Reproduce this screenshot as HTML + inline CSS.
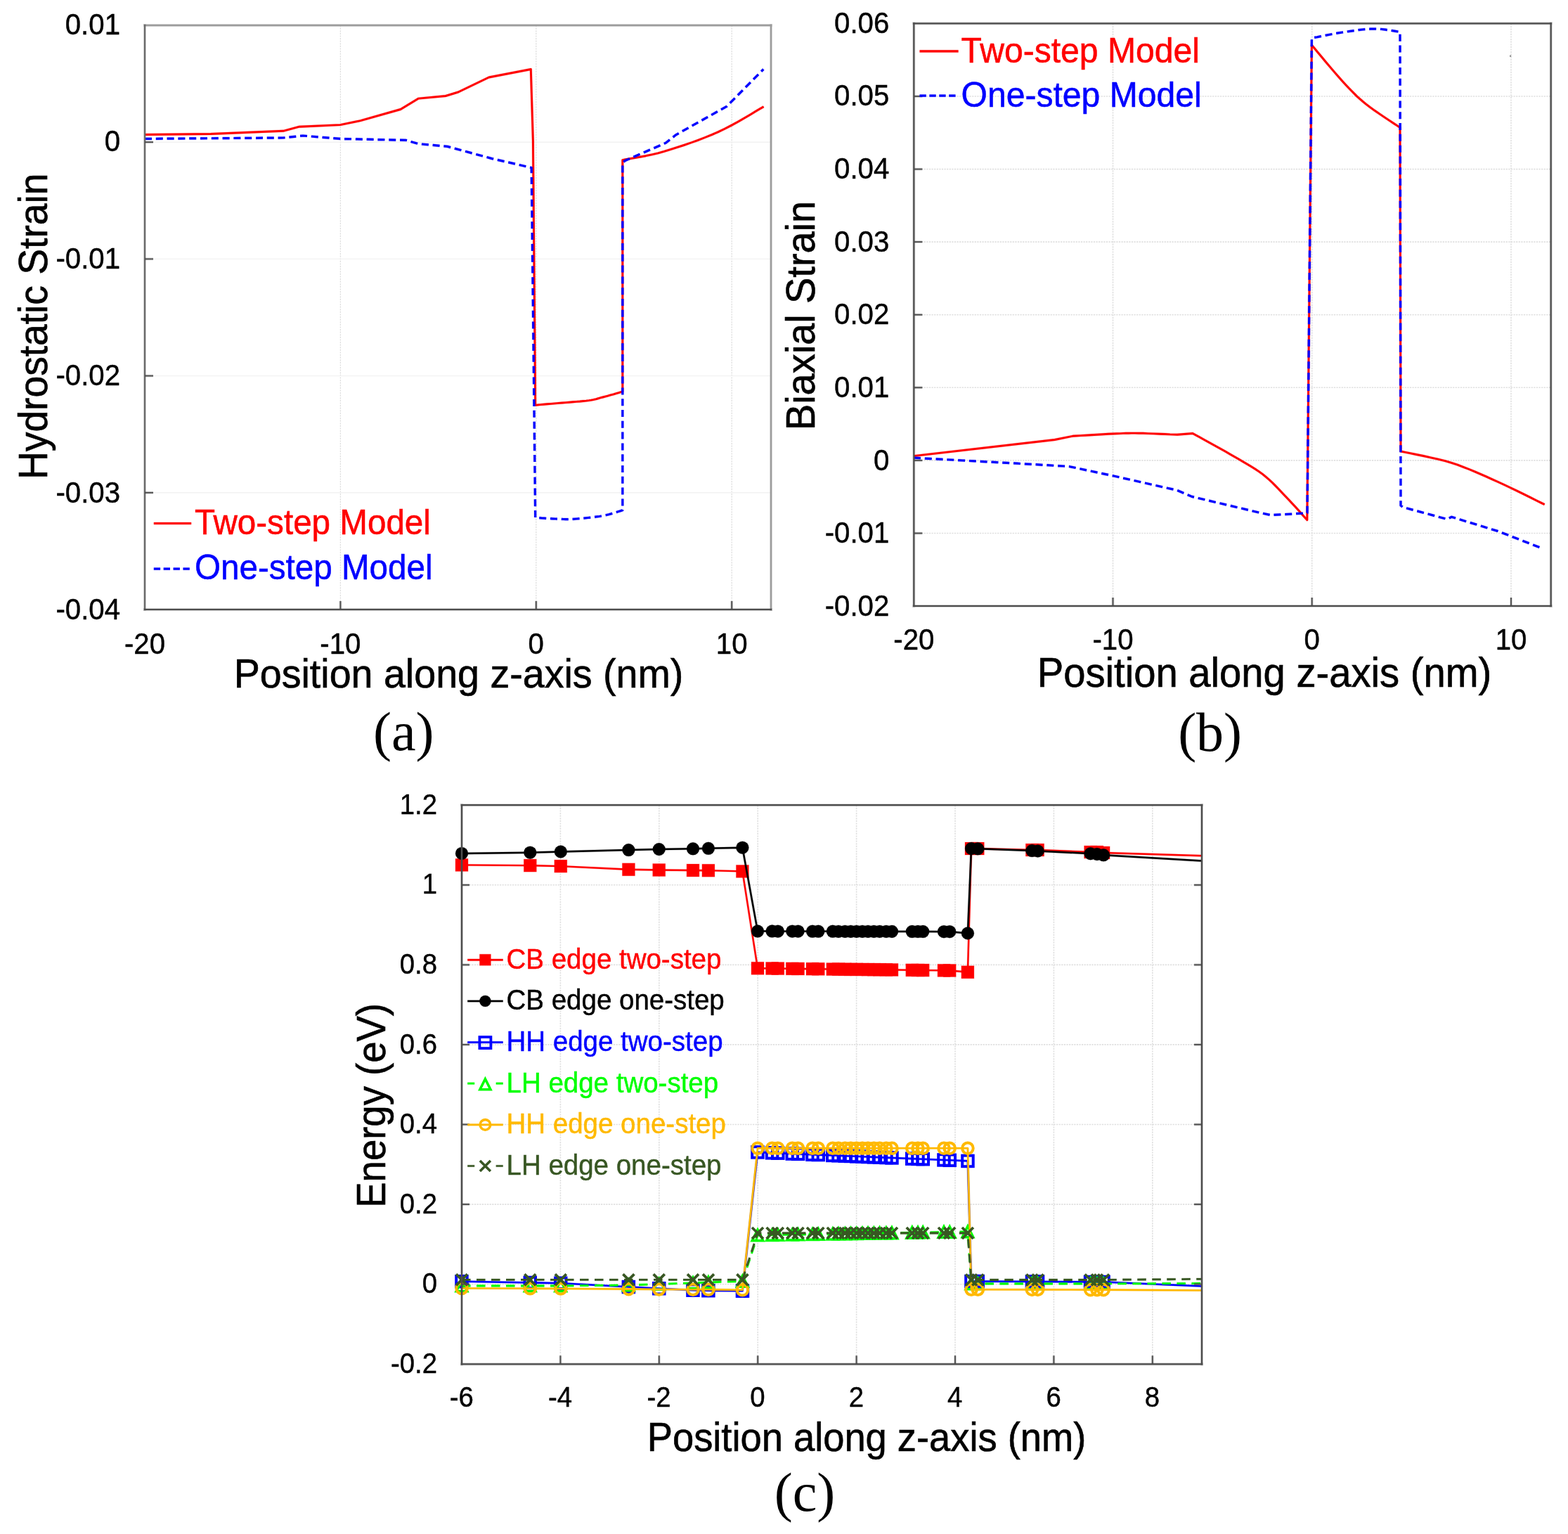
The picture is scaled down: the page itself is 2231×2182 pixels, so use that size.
<!DOCTYPE html>
<html lang="en"><head><meta charset="utf-8"><title>Strain and band-edge profiles</title>
<style>
html,body{margin:0;padding:0;background:#fff;}
body{width:2231px;height:2182px;overflow:hidden;}
svg{display:block;}
svg text{white-space:pre;}
</style></head><body>
<svg width="2231" height="2182" viewBox="0 0 2231 2182">
<rect width="2231" height="2182" fill="#fff"/>
<g id="chart-a">
<line x1="484.4" y1="36.0" x2="484.4" y2="867.0" stroke="#dedede" stroke-width="1.3" stroke-dasharray="2.2 1.4"/>
<line x1="762.8" y1="36.0" x2="762.8" y2="867.0" stroke="#dedede" stroke-width="1.3" stroke-dasharray="2.2 1.4"/>
<line x1="1041.2" y1="36.0" x2="1041.2" y2="867.0" stroke="#dedede" stroke-width="1.3" stroke-dasharray="2.2 1.4"/>
<line x1="206.0" y1="202.2" x2="1097.0" y2="202.2" stroke="#f2f2f2" stroke-width="1.4" />
<line x1="206.0" y1="368.4" x2="1097.0" y2="368.4" stroke="#f2f2f2" stroke-width="1.4" />
<line x1="206.0" y1="534.6" x2="1097.0" y2="534.6" stroke="#f2f2f2" stroke-width="1.4" />
<line x1="206.0" y1="700.8" x2="1097.0" y2="700.8" stroke="#f2f2f2" stroke-width="1.4" />
<polyline points="206.0,191.5 300.0,190.5 403.0,186.3 426.0,180.2 484.0,177.6 513.0,171.7 570.0,155.5 595.5,140.1 634.0,136.5 652.0,131.0 695.6,110.0 755.3,98.5 758.4,200.0 761.7,576.2 764.7,576.0 768.6,575.6 773.3,575.2 778.5,574.8 784.0,574.4 789.6,573.9 795.0,573.4 800.0,573.0 804.9,572.6 809.9,572.2 815.0,571.8 820.1,571.4 825.0,571.0 829.7,570.5 834.0,570.1 837.9,569.6 841.2,569.1 843.9,568.6 846.2,568.1 848.4,567.6 850.4,567.0 852.5,566.4 854.9,565.7 857.6,565.0 860.9,564.1 864.7,563.1 868.8,561.9 872.9,560.8 876.9,559.6 880.5,558.6 883.6,557.7 885.8,557.1 885.8,227.6 890.2,226.8 896.0,225.8 902.9,224.6 910.6,223.2 918.9,221.7 927.6,219.8 936.3,217.8 945.0,215.4 953.9,212.7 963.3,209.7 973.1,206.5 983.2,203.0 993.3,199.3 1003.2,195.5 1012.8,191.6 1022.0,187.6 1031.1,183.3 1040.5,178.4 1050.0,173.2 1059.1,167.9 1067.7,162.9 1075.3,158.3 1081.7,154.5 1086.6,151.7" fill="none" stroke="#ff0000" stroke-width="3.9" stroke-opacity="0.25" stroke-linejoin="round" />
<polyline points="206.0,191.5 300.0,190.5 403.0,186.3 426.0,180.2 484.0,177.6 513.0,171.7 570.0,155.5 595.5,140.1 634.0,136.5 652.0,131.0 695.6,110.0 755.3,98.5 758.4,200.0 761.7,576.2 764.7,576.0 768.6,575.6 773.3,575.2 778.5,574.8 784.0,574.4 789.6,573.9 795.0,573.4 800.0,573.0 804.9,572.6 809.9,572.2 815.0,571.8 820.1,571.4 825.0,571.0 829.7,570.5 834.0,570.1 837.9,569.6 841.2,569.1 843.9,568.6 846.2,568.1 848.4,567.6 850.4,567.0 852.5,566.4 854.9,565.7 857.6,565.0 860.9,564.1 864.7,563.1 868.8,561.9 872.9,560.8 876.9,559.6 880.5,558.6 883.6,557.7 885.8,557.1 885.8,227.6 890.2,226.8 896.0,225.8 902.9,224.6 910.6,223.2 918.9,221.7 927.6,219.8 936.3,217.8 945.0,215.4 953.9,212.7 963.3,209.7 973.1,206.5 983.2,203.0 993.3,199.3 1003.2,195.5 1012.8,191.6 1022.0,187.6 1031.1,183.3 1040.5,178.4 1050.0,173.2 1059.1,167.9 1067.7,162.9 1075.3,158.3 1081.7,154.5 1086.6,151.7" fill="none" stroke="#ff0000" stroke-width="2.9" stroke-linejoin="round" />
<polyline points="206.0,197.4 403.0,196.0 431.0,193.0 484.0,197.4 577.5,199.4 595.5,204.6 636.6,208.4 700.0,225.6 756.2,238.5 761.7,736.3 763.9,736.4 766.9,736.6 770.4,736.9 774.3,737.1 778.3,737.4 782.5,737.6 786.4,737.8 790.0,738.0 793.2,738.1 796.2,738.3 799.0,738.4 801.9,738.5 804.8,738.6 808.0,738.6 811.5,738.5 815.5,738.3 820.1,738.0 825.2,737.6 830.7,737.1 836.4,736.5 842.1,735.9 847.7,735.2 852.9,734.5 857.6,733.7 862.0,732.8 866.3,731.8 870.4,730.6 874.3,729.5 877.9,728.3 881.1,727.3 883.7,726.4 885.8,725.8 885.8,231.5 889.5,228.5 947.3,203.3 961.7,191.8 1034.0,151.3 1086.3,98.5" fill="none" stroke="#0000ff" stroke-width="4.2" stroke-opacity="0.25" stroke-linejoin="round" stroke-dasharray="10 5.8"/>
<polyline points="206.0,197.4 403.0,196.0 431.0,193.0 484.0,197.4 577.5,199.4 595.5,204.6 636.6,208.4 700.0,225.6 756.2,238.5 761.7,736.3 763.9,736.4 766.9,736.6 770.4,736.9 774.3,737.1 778.3,737.4 782.5,737.6 786.4,737.8 790.0,738.0 793.2,738.1 796.2,738.3 799.0,738.4 801.9,738.5 804.8,738.6 808.0,738.6 811.5,738.5 815.5,738.3 820.1,738.0 825.2,737.6 830.7,737.1 836.4,736.5 842.1,735.9 847.7,735.2 852.9,734.5 857.6,733.7 862.0,732.8 866.3,731.8 870.4,730.6 874.3,729.5 877.9,728.3 881.1,727.3 883.7,726.4 885.8,725.8 885.8,231.5 889.5,228.5 947.3,203.3 961.7,191.8 1034.0,151.3 1086.3,98.5" fill="none" stroke="#0000ff" stroke-width="3.2" stroke-linejoin="round" stroke-dasharray="10 5.8"/>
<line x1="206.0" y1="36.0" x2="1097.0" y2="36.0" stroke="#9c9c9c" stroke-width="4.0" stroke-opacity="0.3" stroke-linecap="square"/>
<line x1="1097.0" y1="36.0" x2="1097.0" y2="867.0" stroke="#9c9c9c" stroke-width="4.0" stroke-opacity="0.3" stroke-linecap="square"/>
<line x1="206.0" y1="36.0" x2="1097.0" y2="36.0" stroke="#9c9c9c" stroke-width="2.3" stroke-opacity="1" stroke-linecap="square"/>
<line x1="1097.0" y1="36.0" x2="1097.0" y2="867.0" stroke="#9c9c9c" stroke-width="2.3" stroke-opacity="1" stroke-linecap="square"/>
<line x1="206.0" y1="36.0" x2="206.0" y2="867.0" stroke="#6a6a6a" stroke-width="3.8" stroke-opacity="0.28" stroke-linecap="square"/>
<line x1="206.0" y1="36.0" x2="206.0" y2="867.0" stroke="#6a6a6a" stroke-width="2.2" stroke-opacity="1" stroke-linecap="square"/>
<line x1="206.0" y1="867.0" x2="1097.0" y2="867.0" stroke="#4d4d4d" stroke-width="3.8" stroke-opacity="0.28" stroke-linecap="square"/>
<line x1="206.0" y1="867.0" x2="1097.0" y2="867.0" stroke="#4d4d4d" stroke-width="2.2" stroke-opacity="1" stroke-linecap="square"/>
<line x1="206.0" y1="202.2" x2="218.0" y2="202.2" stroke="#4d4d4d" stroke-width="3.6" stroke-opacity="0.3"/>
<line x1="206.0" y1="202.2" x2="218.0" y2="202.2" stroke="#4d4d4d" stroke-width="1.8"/>
<line x1="206.0" y1="368.4" x2="218.0" y2="368.4" stroke="#4d4d4d" stroke-width="3.6" stroke-opacity="0.3"/>
<line x1="206.0" y1="368.4" x2="218.0" y2="368.4" stroke="#4d4d4d" stroke-width="1.8"/>
<line x1="206.0" y1="534.6" x2="218.0" y2="534.6" stroke="#4d4d4d" stroke-width="3.6" stroke-opacity="0.3"/>
<line x1="206.0" y1="534.6" x2="218.0" y2="534.6" stroke="#4d4d4d" stroke-width="1.8"/>
<line x1="206.0" y1="700.8" x2="218.0" y2="700.8" stroke="#4d4d4d" stroke-width="3.6" stroke-opacity="0.3"/>
<line x1="206.0" y1="700.8" x2="218.0" y2="700.8" stroke="#4d4d4d" stroke-width="1.8"/>
<line x1="484.4" y1="867.0" x2="484.4" y2="855.0" stroke="#4d4d4d" stroke-width="3.6" stroke-opacity="0.3"/>
<line x1="484.4" y1="867.0" x2="484.4" y2="855.0" stroke="#4d4d4d" stroke-width="1.8"/>
<line x1="762.8" y1="867.0" x2="762.8" y2="855.0" stroke="#4d4d4d" stroke-width="3.6" stroke-opacity="0.3"/>
<line x1="762.8" y1="867.0" x2="762.8" y2="855.0" stroke="#4d4d4d" stroke-width="1.8"/>
<line x1="1041.2" y1="867.0" x2="1041.2" y2="855.0" stroke="#4d4d4d" stroke-width="3.6" stroke-opacity="0.3"/>
<line x1="1041.2" y1="867.0" x2="1041.2" y2="855.0" stroke="#4d4d4d" stroke-width="1.8"/>
<text transform="translate(171.0,48.5) scale(1,1.04)" font-size="40.2" fill="#000" stroke="#000" stroke-width="0.44" text-anchor="end" font-family="Liberation Sans, Arial, Helvetica, sans-serif">0.01</text>
<text transform="translate(171.0,215.1) scale(1,1.04)" font-size="40.2" fill="#000" stroke="#000" stroke-width="0.44" text-anchor="end" font-family="Liberation Sans, Arial, Helvetica, sans-serif">0</text>
<text transform="translate(171.0,381.6) scale(1,1.04)" font-size="40.2" fill="#000" stroke="#000" stroke-width="0.44" text-anchor="end" font-family="Liberation Sans, Arial, Helvetica, sans-serif">-0.01</text>
<text transform="translate(171.0,548.1) scale(1,1.04)" font-size="40.2" fill="#000" stroke="#000" stroke-width="0.44" text-anchor="end" font-family="Liberation Sans, Arial, Helvetica, sans-serif">-0.02</text>
<text transform="translate(171.0,714.7) scale(1,1.04)" font-size="40.2" fill="#000" stroke="#000" stroke-width="0.44" text-anchor="end" font-family="Liberation Sans, Arial, Helvetica, sans-serif">-0.03</text>
<text transform="translate(171.0,881.2) scale(1,1.04)" font-size="40.2" fill="#000" stroke="#000" stroke-width="0.44" text-anchor="end" font-family="Liberation Sans, Arial, Helvetica, sans-serif">-0.04</text>
<text transform="translate(206.0,929.7) scale(1,1.04)" font-size="40.2" fill="#000" stroke="#000" stroke-width="0.44" text-anchor="middle" font-family="Liberation Sans, Arial, Helvetica, sans-serif">-20</text>
<text transform="translate(484.4,929.7) scale(1,1.04)" font-size="40.2" fill="#000" stroke="#000" stroke-width="0.44" text-anchor="middle" font-family="Liberation Sans, Arial, Helvetica, sans-serif">-10</text>
<text transform="translate(762.8,929.7) scale(1,1.04)" font-size="40.2" fill="#000" stroke="#000" stroke-width="0.44" text-anchor="middle" font-family="Liberation Sans, Arial, Helvetica, sans-serif">0</text>
<text transform="translate(1041.2,929.7) scale(1,1.04)" font-size="40.2" fill="#000" stroke="#000" stroke-width="0.44" text-anchor="middle" font-family="Liberation Sans, Arial, Helvetica, sans-serif">10</text>
<text transform="translate(652.5,978.1) scale(1,1.04)" font-size="55.6" fill="#000" stroke="#000" stroke-width="0.61" text-anchor="middle" font-family="Liberation Sans, Arial, Helvetica, sans-serif">Position along z-axis (nm)</text>
<text transform="translate(67.3,464.3) rotate(-90) scale(1,1.04)" font-size="55.2" fill="#000" stroke="#000" stroke-width="0.61" text-anchor="middle" font-family="Liberation Sans, Arial, Helvetica, sans-serif">Hydrostatic Strain</text>
<line x1="218.8" y1="744.5" x2="272.2" y2="744.5" stroke="#ff0000" stroke-width="4.1" stroke-opacity="0.25" />
<line x1="218.8" y1="744.5" x2="272.2" y2="744.5" stroke="#ff0000" stroke-width="3.1" />
<text transform="translate(277.0,760.0) scale(1,1.04)" font-size="47.6" fill="#ff0000" stroke="#ff0000" stroke-width="0.52" text-anchor="start" font-family="Liberation Sans, Arial, Helvetica, sans-serif">Two-step Model</text>
<line x1="218.8" y1="809.2" x2="272.2" y2="809.2" stroke="#0000ff" stroke-width="4.2" stroke-opacity="0.25" stroke-dasharray="9.3 4.6"/>
<line x1="218.8" y1="809.2" x2="272.2" y2="809.2" stroke="#0000ff" stroke-width="3.2" stroke-dasharray="9.3 4.6"/>
<text transform="translate(277.0,824.0) scale(1,1.04)" font-size="47.6" fill="#0000ff" stroke="#0000ff" stroke-width="0.52" text-anchor="start" font-family="Liberation Sans, Arial, Helvetica, sans-serif">One-step Model</text>
<text transform="translate(574.2,1066.5)" font-size="78" fill="#000" text-anchor="middle" font-family="Liberation Serif, DejaVu Serif, serif">(a)</text>
</g>
<g id="chart-b">
<line x1="1583.5" y1="33.4" x2="1583.5" y2="862.0" stroke="#dfdfdf" stroke-width="1.6" stroke-dasharray="2.2 1.4"/>
<line x1="1866.7" y1="33.4" x2="1866.7" y2="862.0" stroke="#dfdfdf" stroke-width="1.6" stroke-dasharray="2.2 1.4"/>
<line x1="2150.0" y1="33.4" x2="2150.0" y2="862.0" stroke="#dfdfdf" stroke-width="1.6" stroke-dasharray="2.2 1.4"/>
<line x1="1300.3" y1="137.0" x2="2206.7" y2="137.0" stroke="#dfdfdf" stroke-width="1.6" stroke-dasharray="2.2 1.4"/>
<line x1="1300.3" y1="240.6" x2="2206.7" y2="240.6" stroke="#dfdfdf" stroke-width="1.6" stroke-dasharray="2.2 1.4"/>
<line x1="1300.3" y1="344.1" x2="2206.7" y2="344.1" stroke="#dfdfdf" stroke-width="1.6" stroke-dasharray="2.2 1.4"/>
<line x1="1300.3" y1="447.7" x2="2206.7" y2="447.7" stroke="#dfdfdf" stroke-width="1.6" stroke-dasharray="2.2 1.4"/>
<line x1="1300.3" y1="551.3" x2="2206.7" y2="551.3" stroke="#dfdfdf" stroke-width="1.6" stroke-dasharray="2.2 1.4"/>
<line x1="1300.3" y1="654.9" x2="2206.7" y2="654.9" stroke="#dfdfdf" stroke-width="1.6" stroke-dasharray="2.2 1.4"/>
<line x1="1300.3" y1="758.5" x2="2206.7" y2="758.5" stroke="#dfdfdf" stroke-width="1.6" stroke-dasharray="2.2 1.4"/>
<polyline points="1300.0,648.6 1500.6,625.5 1526.3,620.3 1530.9,620.0 1537.1,619.6 1544.5,619.2 1552.6,618.7 1561.1,618.2 1569.3,617.7 1576.9,617.3 1583.5,617.0 1588.9,616.8 1593.6,616.6 1597.9,616.4 1601.9,616.3 1605.9,616.2 1610.1,616.1 1614.7,616.1 1620.0,616.2 1626.4,616.3 1633.7,616.6 1641.7,616.9 1649.8,617.2 1657.6,617.5 1664.7,617.9 1670.6,618.1 1675.0,618.3 1697.0,616.5 1701.1,618.8 1706.7,621.8 1713.3,625.4 1720.6,629.5 1728.3,633.7 1736.0,638.0 1743.3,642.1 1750.0,646.0 1756.2,649.6 1762.4,653.1 1768.6,656.7 1774.6,660.2 1780.4,663.7 1786.1,667.3 1791.5,670.9 1796.7,674.7 1801.5,678.6 1806.0,682.5 1810.3,686.5 1814.4,690.6 1818.4,694.7 1822.2,698.8 1826.1,702.9 1830.0,707.0 1834.1,711.3 1838.4,715.9 1842.7,720.6 1847.0,725.3 1851.0,729.7 1854.5,733.7 1857.5,737.1 1859.8,739.6 1866.4,64.2 1869.9,68.3 1874.6,74.0 1880.3,80.8 1886.5,88.2 1893.0,95.9 1899.4,103.4 1905.4,110.3 1910.7,116.2 1915.3,121.2 1919.4,125.6 1923.3,129.6 1927.1,133.4 1930.8,137.1 1934.8,140.7 1939.1,144.4 1943.9,148.3 1949.5,152.6 1956.0,157.3 1963.0,162.1 1970.0,166.9 1976.8,171.4 1983.0,175.5 1988.2,178.9 1992.0,181.5 1993.0,642.0 1998.6,643.2 2006.1,644.7 2015.1,646.5 2025.1,648.5 2035.5,650.8 2046.0,653.2 2056.1,655.7 2065.3,658.4 2073.8,661.2 2082.1,664.3 2090.3,667.5 2098.4,670.9 2106.5,674.4 2114.6,677.9 2122.7,681.6 2130.9,685.3 2139.6,689.3 2149.1,693.8 2158.8,698.4 2168.4,703.1 2177.5,707.6 2185.7,711.7 2192.5,715.1 2197.7,717.6" fill="none" stroke="#ff0000" stroke-width="3.9" stroke-opacity="0.25" stroke-linejoin="round" />
<polyline points="1300.0,648.6 1500.6,625.5 1526.3,620.3 1530.9,620.0 1537.1,619.6 1544.5,619.2 1552.6,618.7 1561.1,618.2 1569.3,617.7 1576.9,617.3 1583.5,617.0 1588.9,616.8 1593.6,616.6 1597.9,616.4 1601.9,616.3 1605.9,616.2 1610.1,616.1 1614.7,616.1 1620.0,616.2 1626.4,616.3 1633.7,616.6 1641.7,616.9 1649.8,617.2 1657.6,617.5 1664.7,617.9 1670.6,618.1 1675.0,618.3 1697.0,616.5 1701.1,618.8 1706.7,621.8 1713.3,625.4 1720.6,629.5 1728.3,633.7 1736.0,638.0 1743.3,642.1 1750.0,646.0 1756.2,649.6 1762.4,653.1 1768.6,656.7 1774.6,660.2 1780.4,663.7 1786.1,667.3 1791.5,670.9 1796.7,674.7 1801.5,678.6 1806.0,682.5 1810.3,686.5 1814.4,690.6 1818.4,694.7 1822.2,698.8 1826.1,702.9 1830.0,707.0 1834.1,711.3 1838.4,715.9 1842.7,720.6 1847.0,725.3 1851.0,729.7 1854.5,733.7 1857.5,737.1 1859.8,739.6 1866.4,64.2 1869.9,68.3 1874.6,74.0 1880.3,80.8 1886.5,88.2 1893.0,95.9 1899.4,103.4 1905.4,110.3 1910.7,116.2 1915.3,121.2 1919.4,125.6 1923.3,129.6 1927.1,133.4 1930.8,137.1 1934.8,140.7 1939.1,144.4 1943.9,148.3 1949.5,152.6 1956.0,157.3 1963.0,162.1 1970.0,166.9 1976.8,171.4 1983.0,175.5 1988.2,178.9 1992.0,181.5 1993.0,642.0 1998.6,643.2 2006.1,644.7 2015.1,646.5 2025.1,648.5 2035.5,650.8 2046.0,653.2 2056.1,655.7 2065.3,658.4 2073.8,661.2 2082.1,664.3 2090.3,667.5 2098.4,670.9 2106.5,674.4 2114.6,677.9 2122.7,681.6 2130.9,685.3 2139.6,689.3 2149.1,693.8 2158.8,698.4 2168.4,703.1 2177.5,707.6 2185.7,711.7 2192.5,715.1 2197.7,717.6" fill="none" stroke="#ff0000" stroke-width="2.9" stroke-linejoin="round" />
<polyline points="1300.0,651.2 1309.2,651.7 1321.6,652.4 1336.3,653.2 1352.6,654.0 1369.7,655.0 1386.8,655.9 1403.2,656.8 1418.0,657.6 1432.3,658.4 1447.2,659.2 1462.2,660.1 1476.9,660.9 1490.6,661.7 1502.8,662.5 1513.2,663.0 1521.0,663.5 1583.5,676.8 1675.0,697.4 1695.8,706.4 1790.0,728.7 1808.0,732.7 1853.5,730.2 1860.0,729.5 1866.4,54.2 1869.8,53.5 1874.2,52.7 1879.5,51.6 1885.4,50.4 1891.6,49.2 1898.0,48.0 1904.2,46.9 1910.0,46.0 1915.6,45.2 1921.3,44.3 1927.1,43.5 1932.9,42.7 1938.6,42.0 1944.3,41.5 1949.7,41.2 1955.0,41.0 1960.3,41.1 1965.7,41.5 1971.1,42.2 1976.3,42.9 1981.2,43.7 1985.5,44.4 1989.2,45.0 1992.0,45.4 1993.0,719.0 1996.0,721.4 2059.0,738.5 2065.3,735.3 2130.9,755.4 2191.4,778.9" fill="none" stroke="#0000ff" stroke-width="4.2" stroke-opacity="0.25" stroke-linejoin="round" stroke-dasharray="10 5.8"/>
<polyline points="1300.0,651.2 1309.2,651.7 1321.6,652.4 1336.3,653.2 1352.6,654.0 1369.7,655.0 1386.8,655.9 1403.2,656.8 1418.0,657.6 1432.3,658.4 1447.2,659.2 1462.2,660.1 1476.9,660.9 1490.6,661.7 1502.8,662.5 1513.2,663.0 1521.0,663.5 1583.5,676.8 1675.0,697.4 1695.8,706.4 1790.0,728.7 1808.0,732.7 1853.5,730.2 1860.0,729.5 1866.4,54.2 1869.8,53.5 1874.2,52.7 1879.5,51.6 1885.4,50.4 1891.6,49.2 1898.0,48.0 1904.2,46.9 1910.0,46.0 1915.6,45.2 1921.3,44.3 1927.1,43.5 1932.9,42.7 1938.6,42.0 1944.3,41.5 1949.7,41.2 1955.0,41.0 1960.3,41.1 1965.7,41.5 1971.1,42.2 1976.3,42.9 1981.2,43.7 1985.5,44.4 1989.2,45.0 1992.0,45.4 1993.0,719.0 1996.0,721.4 2059.0,738.5 2065.3,735.3 2130.9,755.4 2191.4,778.9" fill="none" stroke="#0000ff" stroke-width="3.2" stroke-linejoin="round" stroke-dasharray="10 5.8"/>
<line x1="1300.3" y1="33.4" x2="1300.3" y2="862.0" stroke="#4d4d4d" stroke-width="3.8" stroke-opacity="0.28" stroke-linecap="square"/>
<line x1="1300.3" y1="33.4" x2="2206.7" y2="33.4" stroke="#4d4d4d" stroke-width="3.8" stroke-opacity="0.28" stroke-linecap="square"/>
<line x1="2206.7" y1="33.4" x2="2206.7" y2="862.0" stroke="#4d4d4d" stroke-width="3.8" stroke-opacity="0.28" stroke-linecap="square"/>
<line x1="1300.3" y1="862.0" x2="2206.7" y2="862.0" stroke="#4d4d4d" stroke-width="3.8" stroke-opacity="0.28" stroke-linecap="square"/>
<line x1="1300.3" y1="33.4" x2="1300.3" y2="862.0" stroke="#4d4d4d" stroke-width="2.2" stroke-opacity="1" stroke-linecap="square"/>
<line x1="1300.3" y1="33.4" x2="2206.7" y2="33.4" stroke="#4d4d4d" stroke-width="2.2" stroke-opacity="1" stroke-linecap="square"/>
<line x1="2206.7" y1="33.4" x2="2206.7" y2="862.0" stroke="#4d4d4d" stroke-width="2.2" stroke-opacity="1" stroke-linecap="square"/>
<line x1="1300.3" y1="862.0" x2="2206.7" y2="862.0" stroke="#4d4d4d" stroke-width="2.2" stroke-opacity="1" stroke-linecap="square"/>
<rect x="2148" y="78.6" width="2.2" height="2.2" fill="#8a8a8a"/>
<line x1="1300.3" y1="137.0" x2="1312.3" y2="137.0" stroke="#4d4d4d" stroke-width="3.6" stroke-opacity="0.3"/>
<line x1="1300.3" y1="137.0" x2="1312.3" y2="137.0" stroke="#4d4d4d" stroke-width="1.8"/>
<line x1="1300.3" y1="240.6" x2="1312.3" y2="240.6" stroke="#4d4d4d" stroke-width="3.6" stroke-opacity="0.3"/>
<line x1="1300.3" y1="240.6" x2="1312.3" y2="240.6" stroke="#4d4d4d" stroke-width="1.8"/>
<line x1="1300.3" y1="344.1" x2="1312.3" y2="344.1" stroke="#4d4d4d" stroke-width="3.6" stroke-opacity="0.3"/>
<line x1="1300.3" y1="344.1" x2="1312.3" y2="344.1" stroke="#4d4d4d" stroke-width="1.8"/>
<line x1="1300.3" y1="447.7" x2="1312.3" y2="447.7" stroke="#4d4d4d" stroke-width="3.6" stroke-opacity="0.3"/>
<line x1="1300.3" y1="447.7" x2="1312.3" y2="447.7" stroke="#4d4d4d" stroke-width="1.8"/>
<line x1="1300.3" y1="551.3" x2="1312.3" y2="551.3" stroke="#4d4d4d" stroke-width="3.6" stroke-opacity="0.3"/>
<line x1="1300.3" y1="551.3" x2="1312.3" y2="551.3" stroke="#4d4d4d" stroke-width="1.8"/>
<line x1="1300.3" y1="654.9" x2="1312.3" y2="654.9" stroke="#4d4d4d" stroke-width="3.6" stroke-opacity="0.3"/>
<line x1="1300.3" y1="654.9" x2="1312.3" y2="654.9" stroke="#4d4d4d" stroke-width="1.8"/>
<line x1="1300.3" y1="758.5" x2="1312.3" y2="758.5" stroke="#4d4d4d" stroke-width="3.6" stroke-opacity="0.3"/>
<line x1="1300.3" y1="758.5" x2="1312.3" y2="758.5" stroke="#4d4d4d" stroke-width="1.8"/>
<line x1="1583.5" y1="862.0" x2="1583.5" y2="850.0" stroke="#4d4d4d" stroke-width="3.6" stroke-opacity="0.3"/>
<line x1="1583.5" y1="862.0" x2="1583.5" y2="850.0" stroke="#4d4d4d" stroke-width="1.8"/>
<line x1="1866.7" y1="862.0" x2="1866.7" y2="850.0" stroke="#4d4d4d" stroke-width="3.6" stroke-opacity="0.3"/>
<line x1="1866.7" y1="862.0" x2="1866.7" y2="850.0" stroke="#4d4d4d" stroke-width="1.8"/>
<line x1="2150.0" y1="862.0" x2="2150.0" y2="850.0" stroke="#4d4d4d" stroke-width="3.6" stroke-opacity="0.3"/>
<line x1="2150.0" y1="862.0" x2="2150.0" y2="850.0" stroke="#4d4d4d" stroke-width="1.8"/>
<text transform="translate(1265.3,46.5) scale(1,1.04)" font-size="40.2" fill="#000" stroke="#000" stroke-width="0.44" text-anchor="end" font-family="Liberation Sans, Arial, Helvetica, sans-serif">0.06</text>
<text transform="translate(1265.3,150.2) scale(1,1.04)" font-size="40.2" fill="#000" stroke="#000" stroke-width="0.44" text-anchor="end" font-family="Liberation Sans, Arial, Helvetica, sans-serif">0.05</text>
<text transform="translate(1265.3,253.9) scale(1,1.04)" font-size="40.2" fill="#000" stroke="#000" stroke-width="0.44" text-anchor="end" font-family="Liberation Sans, Arial, Helvetica, sans-serif">0.04</text>
<text transform="translate(1265.3,357.6) scale(1,1.04)" font-size="40.2" fill="#000" stroke="#000" stroke-width="0.44" text-anchor="end" font-family="Liberation Sans, Arial, Helvetica, sans-serif">0.03</text>
<text transform="translate(1265.3,461.3) scale(1,1.04)" font-size="40.2" fill="#000" stroke="#000" stroke-width="0.44" text-anchor="end" font-family="Liberation Sans, Arial, Helvetica, sans-serif">0.02</text>
<text transform="translate(1265.3,565.0) scale(1,1.04)" font-size="40.2" fill="#000" stroke="#000" stroke-width="0.44" text-anchor="end" font-family="Liberation Sans, Arial, Helvetica, sans-serif">0.01</text>
<text transform="translate(1265.3,668.7) scale(1,1.04)" font-size="40.2" fill="#000" stroke="#000" stroke-width="0.44" text-anchor="end" font-family="Liberation Sans, Arial, Helvetica, sans-serif">0</text>
<text transform="translate(1265.3,772.4) scale(1,1.04)" font-size="40.2" fill="#000" stroke="#000" stroke-width="0.44" text-anchor="end" font-family="Liberation Sans, Arial, Helvetica, sans-serif">-0.01</text>
<text transform="translate(1265.3,876.1) scale(1,1.04)" font-size="40.2" fill="#000" stroke="#000" stroke-width="0.44" text-anchor="end" font-family="Liberation Sans, Arial, Helvetica, sans-serif">-0.02</text>
<text transform="translate(1300.3,924.4) scale(1,1.04)" font-size="40.2" fill="#000" stroke="#000" stroke-width="0.44" text-anchor="middle" font-family="Liberation Sans, Arial, Helvetica, sans-serif">-20</text>
<text transform="translate(1583.5,924.4) scale(1,1.04)" font-size="40.2" fill="#000" stroke="#000" stroke-width="0.44" text-anchor="middle" font-family="Liberation Sans, Arial, Helvetica, sans-serif">-10</text>
<text transform="translate(1866.7,924.4) scale(1,1.04)" font-size="40.2" fill="#000" stroke="#000" stroke-width="0.44" text-anchor="middle" font-family="Liberation Sans, Arial, Helvetica, sans-serif">0</text>
<text transform="translate(2150.0,924.4) scale(1,1.04)" font-size="40.2" fill="#000" stroke="#000" stroke-width="0.44" text-anchor="middle" font-family="Liberation Sans, Arial, Helvetica, sans-serif">10</text>
<text transform="translate(1799.0,976.5) scale(1,1.04)" font-size="56.2" fill="#000" stroke="#000" stroke-width="0.62" text-anchor="middle" font-family="Liberation Sans, Arial, Helvetica, sans-serif">Position along z-axis (nm)</text>
<text transform="translate(1158.6,449.0) rotate(-90) scale(1,1.04)" font-size="55.9" fill="#000" stroke="#000" stroke-width="0.61" text-anchor="middle" font-family="Liberation Sans, Arial, Helvetica, sans-serif">Biaxial Strain</text>
<line x1="1308.5" y1="72.9" x2="1363.6" y2="72.9" stroke="#ff0000" stroke-width="4.1" stroke-opacity="0.25" />
<line x1="1308.5" y1="72.9" x2="1363.6" y2="72.9" stroke="#ff0000" stroke-width="3.1" />
<text transform="translate(1367.5,88.8) scale(1,1.04)" font-size="48.1" fill="#ff0000" stroke="#ff0000" stroke-width="0.53" text-anchor="start" font-family="Liberation Sans, Arial, Helvetica, sans-serif">Two-step Model</text>
<line x1="1308.5" y1="136.2" x2="1363.6" y2="136.2" stroke="#0000ff" stroke-width="4.2" stroke-opacity="0.25" stroke-dasharray="9.3 4.6"/>
<line x1="1308.5" y1="136.2" x2="1363.6" y2="136.2" stroke="#0000ff" stroke-width="3.2" stroke-dasharray="9.3 4.6"/>
<text transform="translate(1367.5,152.0) scale(1,1.04)" font-size="48.1" fill="#0000ff" stroke="#0000ff" stroke-width="0.53" text-anchor="start" font-family="Liberation Sans, Arial, Helvetica, sans-serif">One-step Model</text>
<text transform="translate(1721.6,1067.5)" font-size="78" fill="#000" text-anchor="middle" font-family="Liberation Serif, DejaVu Serif, serif">(b)</text>
</g>
<g id="chart-c">
<line x1="797.4" y1="1145.2" x2="797.4" y2="1940.3" stroke="#dfdfdf" stroke-width="1.6" stroke-dasharray="2.2 1.4"/>
<line x1="937.8" y1="1145.2" x2="937.8" y2="1940.3" stroke="#dfdfdf" stroke-width="1.6" stroke-dasharray="2.2 1.4"/>
<line x1="1078.2" y1="1145.2" x2="1078.2" y2="1940.3" stroke="#dfdfdf" stroke-width="1.6" stroke-dasharray="2.2 1.4"/>
<line x1="1218.6" y1="1145.2" x2="1218.6" y2="1940.3" stroke="#dfdfdf" stroke-width="1.6" stroke-dasharray="2.2 1.4"/>
<line x1="1359.0" y1="1145.2" x2="1359.0" y2="1940.3" stroke="#dfdfdf" stroke-width="1.6" stroke-dasharray="2.2 1.4"/>
<line x1="1499.4" y1="1145.2" x2="1499.4" y2="1940.3" stroke="#dfdfdf" stroke-width="1.6" stroke-dasharray="2.2 1.4"/>
<line x1="1639.8" y1="1145.2" x2="1639.8" y2="1940.3" stroke="#dfdfdf" stroke-width="1.6" stroke-dasharray="2.2 1.4"/>
<line x1="657.0" y1="1258.8" x2="1710.0" y2="1258.8" stroke="#dfdfdf" stroke-width="1.6" stroke-dasharray="2.2 1.4"/>
<line x1="657.0" y1="1372.4" x2="1710.0" y2="1372.4" stroke="#dfdfdf" stroke-width="1.6" stroke-dasharray="2.2 1.4"/>
<line x1="657.0" y1="1485.9" x2="1710.0" y2="1485.9" stroke="#dfdfdf" stroke-width="1.6" stroke-dasharray="2.2 1.4"/>
<line x1="657.0" y1="1599.5" x2="1710.0" y2="1599.5" stroke="#dfdfdf" stroke-width="1.6" stroke-dasharray="2.2 1.4"/>
<line x1="657.0" y1="1713.1" x2="1710.0" y2="1713.1" stroke="#dfdfdf" stroke-width="1.6" stroke-dasharray="2.2 1.4"/>
<line x1="657.0" y1="1826.7" x2="1710.0" y2="1826.7" stroke="#dfdfdf" stroke-width="1.6" stroke-dasharray="2.2 1.4"/>
<polyline points="657.0,1230.4 754.3,1231.1 797.8,1232.1 894.4,1236.8 937.7,1237.5 986.0,1238.0 1007.9,1238.2 1056.4,1239.4 1078.0,1377.3 1098.6,1377.5 1106.8,1377.6 1127.3,1377.9 1135.5,1378.0 1156.0,1378.2 1164.3,1378.3 1184.8,1378.6 1193.0,1378.6 1202.3,1378.8 1210.5,1378.9 1218.7,1378.9 1227.0,1379.0 1235.0,1379.1 1243.4,1379.2 1251.6,1379.3 1260.9,1379.4 1269.0,1379.5 1297.8,1379.9 1306.0,1380.0 1313.2,1380.1 1343.0,1380.4 1351.2,1380.5 1376.9,1382.8 1382.0,1207.0 1391.3,1207.0 1468.4,1209.0 1476.6,1209.0 1551.6,1212.0 1560.9,1212.0 1570.1,1213.0 1710.0,1217.3" fill="none" stroke="#ff0000" stroke-width="3.4" stroke-opacity="0.25" stroke-linejoin="round" />
<polyline points="657.0,1230.4 754.3,1231.1 797.8,1232.1 894.4,1236.8 937.7,1237.5 986.0,1238.0 1007.9,1238.2 1056.4,1239.4 1078.0,1377.3 1098.6,1377.5 1106.8,1377.6 1127.3,1377.9 1135.5,1378.0 1156.0,1378.2 1164.3,1378.3 1184.8,1378.6 1193.0,1378.6 1202.3,1378.8 1210.5,1378.9 1218.7,1378.9 1227.0,1379.0 1235.0,1379.1 1243.4,1379.2 1251.6,1379.3 1260.9,1379.4 1269.0,1379.5 1297.8,1379.9 1306.0,1380.0 1313.2,1380.1 1343.0,1380.4 1351.2,1380.5 1376.9,1382.8 1382.0,1207.0 1391.3,1207.0 1468.4,1209.0 1476.6,1209.0 1551.6,1212.0 1560.9,1212.0 1570.1,1213.0 1710.0,1217.3" fill="none" stroke="#ff0000" stroke-width="2.4" stroke-linejoin="round" />
<rect x="648.0" y="1221.4" width="18" height="18" fill="#ff0000" stroke="#ff0000" stroke-width="1.0" stroke-opacity="0.25" paint-order="stroke"/>
<rect x="745.3" y="1222.1" width="18" height="18" fill="#ff0000" stroke="#ff0000" stroke-width="1.0" stroke-opacity="0.25" paint-order="stroke"/>
<rect x="788.8" y="1223.1" width="18" height="18" fill="#ff0000" stroke="#ff0000" stroke-width="1.0" stroke-opacity="0.25" paint-order="stroke"/>
<rect x="885.4" y="1227.8" width="18" height="18" fill="#ff0000" stroke="#ff0000" stroke-width="1.0" stroke-opacity="0.25" paint-order="stroke"/>
<rect x="928.7" y="1228.5" width="18" height="18" fill="#ff0000" stroke="#ff0000" stroke-width="1.0" stroke-opacity="0.25" paint-order="stroke"/>
<rect x="977.0" y="1229.0" width="18" height="18" fill="#ff0000" stroke="#ff0000" stroke-width="1.0" stroke-opacity="0.25" paint-order="stroke"/>
<rect x="998.9" y="1229.2" width="18" height="18" fill="#ff0000" stroke="#ff0000" stroke-width="1.0" stroke-opacity="0.25" paint-order="stroke"/>
<rect x="1047.4" y="1230.4" width="18" height="18" fill="#ff0000" stroke="#ff0000" stroke-width="1.0" stroke-opacity="0.25" paint-order="stroke"/>
<rect x="1069.0" y="1368.3" width="18" height="18" fill="#ff0000" stroke="#ff0000" stroke-width="1.0" stroke-opacity="0.25" paint-order="stroke"/>
<rect x="1089.6" y="1368.5" width="18" height="18" fill="#ff0000" stroke="#ff0000" stroke-width="1.0" stroke-opacity="0.25" paint-order="stroke"/>
<rect x="1097.8" y="1368.6" width="18" height="18" fill="#ff0000" stroke="#ff0000" stroke-width="1.0" stroke-opacity="0.25" paint-order="stroke"/>
<rect x="1118.3" y="1368.9" width="18" height="18" fill="#ff0000" stroke="#ff0000" stroke-width="1.0" stroke-opacity="0.25" paint-order="stroke"/>
<rect x="1126.5" y="1369.0" width="18" height="18" fill="#ff0000" stroke="#ff0000" stroke-width="1.0" stroke-opacity="0.25" paint-order="stroke"/>
<rect x="1147.0" y="1369.2" width="18" height="18" fill="#ff0000" stroke="#ff0000" stroke-width="1.0" stroke-opacity="0.25" paint-order="stroke"/>
<rect x="1155.3" y="1369.3" width="18" height="18" fill="#ff0000" stroke="#ff0000" stroke-width="1.0" stroke-opacity="0.25" paint-order="stroke"/>
<rect x="1175.8" y="1369.6" width="18" height="18" fill="#ff0000" stroke="#ff0000" stroke-width="1.0" stroke-opacity="0.25" paint-order="stroke"/>
<rect x="1184.0" y="1369.6" width="18" height="18" fill="#ff0000" stroke="#ff0000" stroke-width="1.0" stroke-opacity="0.25" paint-order="stroke"/>
<rect x="1193.3" y="1369.8" width="18" height="18" fill="#ff0000" stroke="#ff0000" stroke-width="1.0" stroke-opacity="0.25" paint-order="stroke"/>
<rect x="1201.5" y="1369.9" width="18" height="18" fill="#ff0000" stroke="#ff0000" stroke-width="1.0" stroke-opacity="0.25" paint-order="stroke"/>
<rect x="1209.7" y="1369.9" width="18" height="18" fill="#ff0000" stroke="#ff0000" stroke-width="1.0" stroke-opacity="0.25" paint-order="stroke"/>
<rect x="1218.0" y="1370.0" width="18" height="18" fill="#ff0000" stroke="#ff0000" stroke-width="1.0" stroke-opacity="0.25" paint-order="stroke"/>
<rect x="1226.0" y="1370.1" width="18" height="18" fill="#ff0000" stroke="#ff0000" stroke-width="1.0" stroke-opacity="0.25" paint-order="stroke"/>
<rect x="1234.4" y="1370.2" width="18" height="18" fill="#ff0000" stroke="#ff0000" stroke-width="1.0" stroke-opacity="0.25" paint-order="stroke"/>
<rect x="1242.6" y="1370.3" width="18" height="18" fill="#ff0000" stroke="#ff0000" stroke-width="1.0" stroke-opacity="0.25" paint-order="stroke"/>
<rect x="1251.9" y="1370.4" width="18" height="18" fill="#ff0000" stroke="#ff0000" stroke-width="1.0" stroke-opacity="0.25" paint-order="stroke"/>
<rect x="1260.0" y="1370.5" width="18" height="18" fill="#ff0000" stroke="#ff0000" stroke-width="1.0" stroke-opacity="0.25" paint-order="stroke"/>
<rect x="1288.8" y="1370.9" width="18" height="18" fill="#ff0000" stroke="#ff0000" stroke-width="1.0" stroke-opacity="0.25" paint-order="stroke"/>
<rect x="1297.0" y="1371.0" width="18" height="18" fill="#ff0000" stroke="#ff0000" stroke-width="1.0" stroke-opacity="0.25" paint-order="stroke"/>
<rect x="1304.2" y="1371.1" width="18" height="18" fill="#ff0000" stroke="#ff0000" stroke-width="1.0" stroke-opacity="0.25" paint-order="stroke"/>
<rect x="1334.0" y="1371.4" width="18" height="18" fill="#ff0000" stroke="#ff0000" stroke-width="1.0" stroke-opacity="0.25" paint-order="stroke"/>
<rect x="1342.2" y="1371.5" width="18" height="18" fill="#ff0000" stroke="#ff0000" stroke-width="1.0" stroke-opacity="0.25" paint-order="stroke"/>
<rect x="1367.9" y="1373.8" width="18" height="18" fill="#ff0000" stroke="#ff0000" stroke-width="1.0" stroke-opacity="0.25" paint-order="stroke"/>
<rect x="1373.0" y="1198.0" width="18" height="18" fill="#ff0000" stroke="#ff0000" stroke-width="1.0" stroke-opacity="0.25" paint-order="stroke"/>
<rect x="1382.3" y="1198.0" width="18" height="18" fill="#ff0000" stroke="#ff0000" stroke-width="1.0" stroke-opacity="0.25" paint-order="stroke"/>
<rect x="1459.4" y="1200.0" width="18" height="18" fill="#ff0000" stroke="#ff0000" stroke-width="1.0" stroke-opacity="0.25" paint-order="stroke"/>
<rect x="1467.6" y="1200.0" width="18" height="18" fill="#ff0000" stroke="#ff0000" stroke-width="1.0" stroke-opacity="0.25" paint-order="stroke"/>
<rect x="1542.6" y="1203.0" width="18" height="18" fill="#ff0000" stroke="#ff0000" stroke-width="1.0" stroke-opacity="0.25" paint-order="stroke"/>
<rect x="1551.9" y="1203.0" width="18" height="18" fill="#ff0000" stroke="#ff0000" stroke-width="1.0" stroke-opacity="0.25" paint-order="stroke"/>
<rect x="1561.1" y="1204.0" width="18" height="18" fill="#ff0000" stroke="#ff0000" stroke-width="1.0" stroke-opacity="0.25" paint-order="stroke"/>
<polyline points="657.0,1213.9 754.3,1212.7 797.8,1211.5 894.4,1209.1 937.7,1208.0 986.0,1207.3 1007.9,1206.8 1056.4,1205.7 1078.0,1324.6 1098.6,1324.6 1106.8,1324.7 1127.3,1324.7 1135.5,1324.7 1156.0,1324.8 1164.3,1324.8 1184.8,1324.8 1193.0,1324.9 1202.3,1324.9 1210.5,1324.9 1218.7,1324.9 1227.0,1324.9 1235.0,1324.9 1243.4,1325.0 1251.6,1325.0 1260.9,1325.0 1269.0,1325.0 1297.8,1325.1 1306.0,1325.1 1313.2,1325.1 1343.0,1325.2 1351.2,1325.2 1376.9,1327.5 1382.0,1207.0 1391.3,1207.3 1468.4,1210.1 1476.6,1210.5 1551.6,1214.2 1560.9,1215.0 1570.1,1216.3 1710.0,1224.5" fill="none" stroke="#000000" stroke-width="3.5" stroke-opacity="0.25" stroke-linejoin="round" />
<polyline points="657.0,1213.9 754.3,1212.7 797.8,1211.5 894.4,1209.1 937.7,1208.0 986.0,1207.3 1007.9,1206.8 1056.4,1205.7 1078.0,1324.6 1098.6,1324.6 1106.8,1324.7 1127.3,1324.7 1135.5,1324.7 1156.0,1324.8 1164.3,1324.8 1184.8,1324.8 1193.0,1324.9 1202.3,1324.9 1210.5,1324.9 1218.7,1324.9 1227.0,1324.9 1235.0,1324.9 1243.4,1325.0 1251.6,1325.0 1260.9,1325.0 1269.0,1325.0 1297.8,1325.1 1306.0,1325.1 1313.2,1325.1 1343.0,1325.2 1351.2,1325.2 1376.9,1327.5 1382.0,1207.0 1391.3,1207.3 1468.4,1210.1 1476.6,1210.5 1551.6,1214.2 1560.9,1215.0 1570.1,1216.3 1710.0,1224.5" fill="none" stroke="#000000" stroke-width="2.5" stroke-linejoin="round" />
<circle cx="657.0" cy="1213.9" r="9.0" fill="#000000" stroke="#000000" stroke-width="1.0" stroke-opacity="0.25" paint-order="stroke"/>
<circle cx="754.3" cy="1212.7" r="9.0" fill="#000000" stroke="#000000" stroke-width="1.0" stroke-opacity="0.25" paint-order="stroke"/>
<circle cx="797.8" cy="1211.5" r="9.0" fill="#000000" stroke="#000000" stroke-width="1.0" stroke-opacity="0.25" paint-order="stroke"/>
<circle cx="894.4" cy="1209.1" r="9.0" fill="#000000" stroke="#000000" stroke-width="1.0" stroke-opacity="0.25" paint-order="stroke"/>
<circle cx="937.7" cy="1208.0" r="9.0" fill="#000000" stroke="#000000" stroke-width="1.0" stroke-opacity="0.25" paint-order="stroke"/>
<circle cx="986.0" cy="1207.3" r="9.0" fill="#000000" stroke="#000000" stroke-width="1.0" stroke-opacity="0.25" paint-order="stroke"/>
<circle cx="1007.9" cy="1206.8" r="9.0" fill="#000000" stroke="#000000" stroke-width="1.0" stroke-opacity="0.25" paint-order="stroke"/>
<circle cx="1056.4" cy="1205.7" r="9.0" fill="#000000" stroke="#000000" stroke-width="1.0" stroke-opacity="0.25" paint-order="stroke"/>
<circle cx="1078.0" cy="1324.6" r="9.0" fill="#000000" stroke="#000000" stroke-width="1.0" stroke-opacity="0.25" paint-order="stroke"/>
<circle cx="1098.6" cy="1324.6" r="9.0" fill="#000000" stroke="#000000" stroke-width="1.0" stroke-opacity="0.25" paint-order="stroke"/>
<circle cx="1106.8" cy="1324.7" r="9.0" fill="#000000" stroke="#000000" stroke-width="1.0" stroke-opacity="0.25" paint-order="stroke"/>
<circle cx="1127.3" cy="1324.7" r="9.0" fill="#000000" stroke="#000000" stroke-width="1.0" stroke-opacity="0.25" paint-order="stroke"/>
<circle cx="1135.5" cy="1324.7" r="9.0" fill="#000000" stroke="#000000" stroke-width="1.0" stroke-opacity="0.25" paint-order="stroke"/>
<circle cx="1156.0" cy="1324.8" r="9.0" fill="#000000" stroke="#000000" stroke-width="1.0" stroke-opacity="0.25" paint-order="stroke"/>
<circle cx="1164.3" cy="1324.8" r="9.0" fill="#000000" stroke="#000000" stroke-width="1.0" stroke-opacity="0.25" paint-order="stroke"/>
<circle cx="1184.8" cy="1324.8" r="9.0" fill="#000000" stroke="#000000" stroke-width="1.0" stroke-opacity="0.25" paint-order="stroke"/>
<circle cx="1193.0" cy="1324.9" r="9.0" fill="#000000" stroke="#000000" stroke-width="1.0" stroke-opacity="0.25" paint-order="stroke"/>
<circle cx="1202.3" cy="1324.9" r="9.0" fill="#000000" stroke="#000000" stroke-width="1.0" stroke-opacity="0.25" paint-order="stroke"/>
<circle cx="1210.5" cy="1324.9" r="9.0" fill="#000000" stroke="#000000" stroke-width="1.0" stroke-opacity="0.25" paint-order="stroke"/>
<circle cx="1218.7" cy="1324.9" r="9.0" fill="#000000" stroke="#000000" stroke-width="1.0" stroke-opacity="0.25" paint-order="stroke"/>
<circle cx="1227.0" cy="1324.9" r="9.0" fill="#000000" stroke="#000000" stroke-width="1.0" stroke-opacity="0.25" paint-order="stroke"/>
<circle cx="1235.0" cy="1324.9" r="9.0" fill="#000000" stroke="#000000" stroke-width="1.0" stroke-opacity="0.25" paint-order="stroke"/>
<circle cx="1243.4" cy="1325.0" r="9.0" fill="#000000" stroke="#000000" stroke-width="1.0" stroke-opacity="0.25" paint-order="stroke"/>
<circle cx="1251.6" cy="1325.0" r="9.0" fill="#000000" stroke="#000000" stroke-width="1.0" stroke-opacity="0.25" paint-order="stroke"/>
<circle cx="1260.9" cy="1325.0" r="9.0" fill="#000000" stroke="#000000" stroke-width="1.0" stroke-opacity="0.25" paint-order="stroke"/>
<circle cx="1269.0" cy="1325.0" r="9.0" fill="#000000" stroke="#000000" stroke-width="1.0" stroke-opacity="0.25" paint-order="stroke"/>
<circle cx="1297.8" cy="1325.1" r="9.0" fill="#000000" stroke="#000000" stroke-width="1.0" stroke-opacity="0.25" paint-order="stroke"/>
<circle cx="1306.0" cy="1325.1" r="9.0" fill="#000000" stroke="#000000" stroke-width="1.0" stroke-opacity="0.25" paint-order="stroke"/>
<circle cx="1313.2" cy="1325.1" r="9.0" fill="#000000" stroke="#000000" stroke-width="1.0" stroke-opacity="0.25" paint-order="stroke"/>
<circle cx="1343.0" cy="1325.2" r="9.0" fill="#000000" stroke="#000000" stroke-width="1.0" stroke-opacity="0.25" paint-order="stroke"/>
<circle cx="1351.2" cy="1325.2" r="9.0" fill="#000000" stroke="#000000" stroke-width="1.0" stroke-opacity="0.25" paint-order="stroke"/>
<circle cx="1376.9" cy="1327.5" r="9.0" fill="#000000" stroke="#000000" stroke-width="1.0" stroke-opacity="0.25" paint-order="stroke"/>
<circle cx="1382.0" cy="1207.0" r="9.0" fill="#000000" stroke="#000000" stroke-width="1.0" stroke-opacity="0.25" paint-order="stroke"/>
<circle cx="1391.3" cy="1207.3" r="9.0" fill="#000000" stroke="#000000" stroke-width="1.0" stroke-opacity="0.25" paint-order="stroke"/>
<circle cx="1468.4" cy="1210.1" r="9.0" fill="#000000" stroke="#000000" stroke-width="1.0" stroke-opacity="0.25" paint-order="stroke"/>
<circle cx="1476.6" cy="1210.5" r="9.0" fill="#000000" stroke="#000000" stroke-width="1.0" stroke-opacity="0.25" paint-order="stroke"/>
<circle cx="1551.6" cy="1214.2" r="9.0" fill="#000000" stroke="#000000" stroke-width="1.0" stroke-opacity="0.25" paint-order="stroke"/>
<circle cx="1560.9" cy="1215.0" r="9.0" fill="#000000" stroke="#000000" stroke-width="1.0" stroke-opacity="0.25" paint-order="stroke"/>
<circle cx="1570.1" cy="1216.3" r="9.0" fill="#000000" stroke="#000000" stroke-width="1.0" stroke-opacity="0.25" paint-order="stroke"/>
<polyline points="657.0,1822.7 754.3,1824.5 797.8,1825.3 894.4,1830.5 937.7,1832.8 986.0,1835.2 1007.9,1835.8 1056.4,1836.3 1078.0,1639.0 1098.6,1639.9 1106.8,1640.2 1127.3,1641.0 1135.5,1641.4 1156.0,1642.2 1164.3,1642.6 1184.8,1643.4 1193.0,1643.8 1202.3,1644.2 1210.5,1644.5 1218.7,1644.8 1227.0,1645.2 1235.0,1645.5 1243.4,1645.9 1251.6,1646.2 1260.9,1646.6 1269.0,1646.9 1297.8,1648.1 1306.0,1648.5 1313.2,1648.8 1343.0,1650.0 1351.2,1650.3 1376.9,1651.4 1382.0,1822.6 1391.3,1822.6 1468.4,1823.0 1476.6,1823.0 1551.6,1823.5 1560.9,1823.5 1570.1,1823.5 1710.0,1829.5" fill="none" stroke="#0000ff" stroke-width="3.6" stroke-opacity="0.25" stroke-linejoin="round" />
<polyline points="657.0,1822.7 754.3,1824.5 797.8,1825.3 894.4,1830.5 937.7,1832.8 986.0,1835.2 1007.9,1835.8 1056.4,1836.3 1078.0,1639.0 1098.6,1639.9 1106.8,1640.2 1127.3,1641.0 1135.5,1641.4 1156.0,1642.2 1164.3,1642.6 1184.8,1643.4 1193.0,1643.8 1202.3,1644.2 1210.5,1644.5 1218.7,1644.8 1227.0,1645.2 1235.0,1645.5 1243.4,1645.9 1251.6,1646.2 1260.9,1646.6 1269.0,1646.9 1297.8,1648.1 1306.0,1648.5 1313.2,1648.8 1343.0,1650.0 1351.2,1650.3 1376.9,1651.4 1382.0,1822.6 1391.3,1822.6 1468.4,1823.0 1476.6,1823.0 1551.6,1823.5 1560.9,1823.5 1570.1,1823.5 1710.0,1829.5" fill="none" stroke="#0000ff" stroke-width="2.6" stroke-linejoin="round" />
<rect x="649.2" y="1815.0" width="15.5" height="15.5" fill="none" stroke="#0000ff" stroke-width="4"/>
<rect x="746.5" y="1816.8" width="15.5" height="15.5" fill="none" stroke="#0000ff" stroke-width="4"/>
<rect x="790.0" y="1817.5" width="15.5" height="15.5" fill="none" stroke="#0000ff" stroke-width="4"/>
<rect x="886.6" y="1822.8" width="15.5" height="15.5" fill="none" stroke="#0000ff" stroke-width="4"/>
<rect x="930.0" y="1825.0" width="15.5" height="15.5" fill="none" stroke="#0000ff" stroke-width="4"/>
<rect x="978.2" y="1827.5" width="15.5" height="15.5" fill="none" stroke="#0000ff" stroke-width="4"/>
<rect x="1000.1" y="1828.0" width="15.5" height="15.5" fill="none" stroke="#0000ff" stroke-width="4"/>
<rect x="1048.7" y="1828.5" width="15.5" height="15.5" fill="none" stroke="#0000ff" stroke-width="4"/>
<rect x="1070.2" y="1631.2" width="15.5" height="15.5" fill="none" stroke="#0000ff" stroke-width="4"/>
<rect x="1090.8" y="1632.1" width="15.5" height="15.5" fill="none" stroke="#0000ff" stroke-width="4"/>
<rect x="1099.0" y="1632.4" width="15.5" height="15.5" fill="none" stroke="#0000ff" stroke-width="4"/>
<rect x="1119.5" y="1633.3" width="15.5" height="15.5" fill="none" stroke="#0000ff" stroke-width="4"/>
<rect x="1127.8" y="1633.6" width="15.5" height="15.5" fill="none" stroke="#0000ff" stroke-width="4"/>
<rect x="1148.2" y="1634.5" width="15.5" height="15.5" fill="none" stroke="#0000ff" stroke-width="4"/>
<rect x="1156.5" y="1634.8" width="15.5" height="15.5" fill="none" stroke="#0000ff" stroke-width="4"/>
<rect x="1177.0" y="1635.7" width="15.5" height="15.5" fill="none" stroke="#0000ff" stroke-width="4"/>
<rect x="1185.2" y="1636.0" width="15.5" height="15.5" fill="none" stroke="#0000ff" stroke-width="4"/>
<rect x="1194.5" y="1636.4" width="15.5" height="15.5" fill="none" stroke="#0000ff" stroke-width="4"/>
<rect x="1202.8" y="1636.7" width="15.5" height="15.5" fill="none" stroke="#0000ff" stroke-width="4"/>
<rect x="1211.0" y="1637.1" width="15.5" height="15.5" fill="none" stroke="#0000ff" stroke-width="4"/>
<rect x="1219.2" y="1637.4" width="15.5" height="15.5" fill="none" stroke="#0000ff" stroke-width="4"/>
<rect x="1227.2" y="1637.8" width="15.5" height="15.5" fill="none" stroke="#0000ff" stroke-width="4"/>
<rect x="1235.7" y="1638.1" width="15.5" height="15.5" fill="none" stroke="#0000ff" stroke-width="4"/>
<rect x="1243.8" y="1638.5" width="15.5" height="15.5" fill="none" stroke="#0000ff" stroke-width="4"/>
<rect x="1253.2" y="1638.8" width="15.5" height="15.5" fill="none" stroke="#0000ff" stroke-width="4"/>
<rect x="1261.2" y="1639.2" width="15.5" height="15.5" fill="none" stroke="#0000ff" stroke-width="4"/>
<rect x="1290.0" y="1640.4" width="15.5" height="15.5" fill="none" stroke="#0000ff" stroke-width="4"/>
<rect x="1298.2" y="1640.7" width="15.5" height="15.5" fill="none" stroke="#0000ff" stroke-width="4"/>
<rect x="1305.5" y="1641.0" width="15.5" height="15.5" fill="none" stroke="#0000ff" stroke-width="4"/>
<rect x="1335.2" y="1642.2" width="15.5" height="15.5" fill="none" stroke="#0000ff" stroke-width="4"/>
<rect x="1343.5" y="1642.6" width="15.5" height="15.5" fill="none" stroke="#0000ff" stroke-width="4"/>
<rect x="1369.2" y="1643.7" width="15.5" height="15.5" fill="none" stroke="#0000ff" stroke-width="4"/>
<rect x="1374.2" y="1814.8" width="15.5" height="15.5" fill="none" stroke="#0000ff" stroke-width="4"/>
<rect x="1383.5" y="1814.8" width="15.5" height="15.5" fill="none" stroke="#0000ff" stroke-width="4"/>
<rect x="1460.7" y="1815.2" width="15.5" height="15.5" fill="none" stroke="#0000ff" stroke-width="4"/>
<rect x="1468.8" y="1815.2" width="15.5" height="15.5" fill="none" stroke="#0000ff" stroke-width="4"/>
<rect x="1543.8" y="1815.8" width="15.5" height="15.5" fill="none" stroke="#0000ff" stroke-width="4"/>
<rect x="1553.2" y="1815.8" width="15.5" height="15.5" fill="none" stroke="#0000ff" stroke-width="4"/>
<rect x="1562.3" y="1815.8" width="15.5" height="15.5" fill="none" stroke="#0000ff" stroke-width="4"/>
<polyline points="657.0,1829.0 754.3,1829.0 797.8,1829.0 894.4,1828.0 937.7,1826.5 986.0,1825.0 1007.9,1824.0 1056.4,1822.5 1078.0,1757.0 1098.6,1756.7 1106.8,1756.5 1127.3,1756.2 1135.5,1756.0 1156.0,1755.7 1164.3,1755.6 1184.8,1755.2 1193.0,1755.1 1202.3,1754.9 1210.5,1754.8 1218.7,1754.6 1227.0,1754.5 1235.0,1754.4 1243.4,1754.2 1251.6,1754.1 1260.9,1753.9 1269.0,1753.8 1297.8,1753.3 1306.0,1753.2 1313.2,1753.1 1343.0,1752.6 1351.2,1752.4 1376.9,1752.0 1382.0,1826.0 1391.3,1826.0 1468.4,1826.0 1476.6,1826.0 1551.6,1826.0 1560.9,1826.0 1570.1,1826.0 1710.0,1825.5" fill="none" stroke="#00ff00" stroke-width="3.8" stroke-opacity="0.25" stroke-linejoin="round" stroke-dasharray="12.5 8.5"/>
<polyline points="657.0,1829.0 754.3,1829.0 797.8,1829.0 894.4,1828.0 937.7,1826.5 986.0,1825.0 1007.9,1824.0 1056.4,1822.5 1078.0,1757.0 1098.6,1756.7 1106.8,1756.5 1127.3,1756.2 1135.5,1756.0 1156.0,1755.7 1164.3,1755.6 1184.8,1755.2 1193.0,1755.1 1202.3,1754.9 1210.5,1754.8 1218.7,1754.6 1227.0,1754.5 1235.0,1754.4 1243.4,1754.2 1251.6,1754.1 1260.9,1753.9 1269.0,1753.8 1297.8,1753.3 1306.0,1753.2 1313.2,1753.1 1343.0,1752.6 1351.2,1752.4 1376.9,1752.0 1382.0,1826.0 1391.3,1826.0 1468.4,1826.0 1476.6,1826.0 1551.6,1826.0 1560.9,1826.0 1570.1,1826.0 1710.0,1825.5" fill="none" stroke="#00ff00" stroke-width="2.8" stroke-linejoin="round" stroke-dasharray="12.5 8.5"/>
<path d="M649.2 1836.8L664.8 1836.8L657.0 1821.2Z" fill="none" stroke="#00ff00" stroke-width="3.6"/>
<path d="M746.5 1836.8L762.0 1836.8L754.3 1821.2Z" fill="none" stroke="#00ff00" stroke-width="3.6"/>
<path d="M790.0 1836.8L805.5 1836.8L797.8 1821.2Z" fill="none" stroke="#00ff00" stroke-width="3.6"/>
<path d="M886.6 1835.8L902.1 1835.8L894.4 1820.2Z" fill="none" stroke="#00ff00" stroke-width="3.6"/>
<path d="M930.0 1834.2L945.5 1834.2L937.7 1818.8Z" fill="none" stroke="#00ff00" stroke-width="3.6"/>
<path d="M978.2 1832.8L993.8 1832.8L986.0 1817.2Z" fill="none" stroke="#00ff00" stroke-width="3.6"/>
<path d="M1000.1 1831.8L1015.6 1831.8L1007.9 1816.2Z" fill="none" stroke="#00ff00" stroke-width="3.6"/>
<path d="M1048.7 1830.2L1064.2 1830.2L1056.4 1814.8Z" fill="none" stroke="#00ff00" stroke-width="3.6"/>
<path d="M1070.2 1764.8L1085.8 1764.8L1078.0 1749.2Z" fill="none" stroke="#00ff00" stroke-width="3.6"/>
<path d="M1090.8 1764.4L1106.3 1764.4L1098.6 1748.9Z" fill="none" stroke="#00ff00" stroke-width="3.6"/>
<path d="M1099.0 1764.3L1114.5 1764.3L1106.8 1748.8Z" fill="none" stroke="#00ff00" stroke-width="3.6"/>
<path d="M1119.5 1763.9L1135.0 1763.9L1127.3 1748.4Z" fill="none" stroke="#00ff00" stroke-width="3.6"/>
<path d="M1127.8 1763.8L1143.2 1763.8L1135.5 1748.3Z" fill="none" stroke="#00ff00" stroke-width="3.6"/>
<path d="M1148.2 1763.4L1163.8 1763.4L1156.0 1747.9Z" fill="none" stroke="#00ff00" stroke-width="3.6"/>
<path d="M1156.5 1763.3L1172.0 1763.3L1164.3 1747.8Z" fill="none" stroke="#00ff00" stroke-width="3.6"/>
<path d="M1177.0 1763.0L1192.5 1763.0L1184.8 1747.5Z" fill="none" stroke="#00ff00" stroke-width="3.6"/>
<path d="M1185.2 1762.8L1200.8 1762.8L1193.0 1747.3Z" fill="none" stroke="#00ff00" stroke-width="3.6"/>
<path d="M1194.5 1762.7L1210.0 1762.7L1202.3 1747.2Z" fill="none" stroke="#00ff00" stroke-width="3.6"/>
<path d="M1202.8 1762.5L1218.2 1762.5L1210.5 1747.0Z" fill="none" stroke="#00ff00" stroke-width="3.6"/>
<path d="M1211.0 1762.4L1226.5 1762.4L1218.7 1746.9Z" fill="none" stroke="#00ff00" stroke-width="3.6"/>
<path d="M1219.2 1762.3L1234.8 1762.3L1227.0 1746.8Z" fill="none" stroke="#00ff00" stroke-width="3.6"/>
<path d="M1227.2 1762.1L1242.8 1762.1L1235.0 1746.6Z" fill="none" stroke="#00ff00" stroke-width="3.6"/>
<path d="M1235.7 1762.0L1251.2 1762.0L1243.4 1746.5Z" fill="none" stroke="#00ff00" stroke-width="3.6"/>
<path d="M1243.8 1761.8L1259.3 1761.8L1251.6 1746.3Z" fill="none" stroke="#00ff00" stroke-width="3.6"/>
<path d="M1253.2 1761.7L1268.7 1761.7L1260.9 1746.2Z" fill="none" stroke="#00ff00" stroke-width="3.6"/>
<path d="M1261.2 1761.6L1276.8 1761.6L1269.0 1746.1Z" fill="none" stroke="#00ff00" stroke-width="3.6"/>
<path d="M1290.0 1761.1L1305.5 1761.1L1297.8 1745.6Z" fill="none" stroke="#00ff00" stroke-width="3.6"/>
<path d="M1298.2 1760.9L1313.8 1760.9L1306.0 1745.4Z" fill="none" stroke="#00ff00" stroke-width="3.6"/>
<path d="M1305.5 1760.8L1321.0 1760.8L1313.2 1745.3Z" fill="none" stroke="#00ff00" stroke-width="3.6"/>
<path d="M1335.2 1760.3L1350.8 1760.3L1343.0 1744.8Z" fill="none" stroke="#00ff00" stroke-width="3.6"/>
<path d="M1343.5 1760.2L1359.0 1760.2L1351.2 1744.7Z" fill="none" stroke="#00ff00" stroke-width="3.6"/>
<path d="M1369.2 1759.8L1384.7 1759.8L1376.9 1744.2Z" fill="none" stroke="#00ff00" stroke-width="3.6"/>
<path d="M1374.2 1833.8L1389.8 1833.8L1382.0 1818.2Z" fill="none" stroke="#00ff00" stroke-width="3.6"/>
<path d="M1383.5 1833.8L1399.0 1833.8L1391.3 1818.2Z" fill="none" stroke="#00ff00" stroke-width="3.6"/>
<path d="M1460.7 1833.8L1476.2 1833.8L1468.4 1818.2Z" fill="none" stroke="#00ff00" stroke-width="3.6"/>
<path d="M1468.8 1833.8L1484.3 1833.8L1476.6 1818.2Z" fill="none" stroke="#00ff00" stroke-width="3.6"/>
<path d="M1543.8 1833.8L1559.3 1833.8L1551.6 1818.2Z" fill="none" stroke="#00ff00" stroke-width="3.6"/>
<path d="M1553.2 1833.8L1568.7 1833.8L1560.9 1818.2Z" fill="none" stroke="#00ff00" stroke-width="3.6"/>
<path d="M1562.3 1833.8L1577.8 1833.8L1570.1 1818.2Z" fill="none" stroke="#00ff00" stroke-width="3.6"/>
<polyline points="657.0,1832.5 754.3,1832.8 797.8,1833.0 894.4,1833.6 937.7,1834.0 986.0,1834.2 1007.9,1834.3 1056.4,1834.8 1078.0,1633.3 1098.6,1633.3 1106.8,1633.3 1127.3,1633.3 1135.5,1633.3 1156.0,1633.3 1164.3,1633.3 1184.8,1633.3 1193.0,1633.3 1202.3,1633.3 1210.5,1633.3 1218.7,1633.3 1227.0,1633.3 1235.0,1633.3 1243.4,1633.3 1251.6,1633.3 1260.9,1633.3 1269.0,1633.3 1297.8,1633.3 1306.0,1633.3 1313.2,1633.3 1343.0,1633.3 1351.2,1633.3 1376.9,1633.3 1382.0,1834.2 1391.3,1834.2 1468.4,1834.4 1476.6,1834.4 1551.6,1834.6 1560.9,1834.6 1570.1,1834.6 1710.0,1835.5" fill="none" stroke="#ffb900" stroke-width="3.6" stroke-opacity="0.25" stroke-linejoin="round" />
<polyline points="657.0,1832.5 754.3,1832.8 797.8,1833.0 894.4,1833.6 937.7,1834.0 986.0,1834.2 1007.9,1834.3 1056.4,1834.8 1078.0,1633.3 1098.6,1633.3 1106.8,1633.3 1127.3,1633.3 1135.5,1633.3 1156.0,1633.3 1164.3,1633.3 1184.8,1633.3 1193.0,1633.3 1202.3,1633.3 1210.5,1633.3 1218.7,1633.3 1227.0,1633.3 1235.0,1633.3 1243.4,1633.3 1251.6,1633.3 1260.9,1633.3 1269.0,1633.3 1297.8,1633.3 1306.0,1633.3 1313.2,1633.3 1343.0,1633.3 1351.2,1633.3 1376.9,1633.3 1382.0,1834.2 1391.3,1834.2 1468.4,1834.4 1476.6,1834.4 1551.6,1834.6 1560.9,1834.6 1570.1,1834.6 1710.0,1835.5" fill="none" stroke="#ffb900" stroke-width="2.6" stroke-linejoin="round" />
<circle cx="657.0" cy="1832.5" r="7.8" fill="none" stroke="#ffb900" stroke-width="4"/>
<circle cx="754.3" cy="1832.8" r="7.8" fill="none" stroke="#ffb900" stroke-width="4"/>
<circle cx="797.8" cy="1833.0" r="7.8" fill="none" stroke="#ffb900" stroke-width="4"/>
<circle cx="894.4" cy="1833.6" r="7.8" fill="none" stroke="#ffb900" stroke-width="4"/>
<circle cx="937.7" cy="1834.0" r="7.8" fill="none" stroke="#ffb900" stroke-width="4"/>
<circle cx="986.0" cy="1834.2" r="7.8" fill="none" stroke="#ffb900" stroke-width="4"/>
<circle cx="1007.9" cy="1834.3" r="7.8" fill="none" stroke="#ffb900" stroke-width="4"/>
<circle cx="1056.4" cy="1834.8" r="7.8" fill="none" stroke="#ffb900" stroke-width="4"/>
<circle cx="1078.0" cy="1633.3" r="7.8" fill="none" stroke="#ffb900" stroke-width="4"/>
<circle cx="1098.6" cy="1633.3" r="7.8" fill="none" stroke="#ffb900" stroke-width="4"/>
<circle cx="1106.8" cy="1633.3" r="7.8" fill="none" stroke="#ffb900" stroke-width="4"/>
<circle cx="1127.3" cy="1633.3" r="7.8" fill="none" stroke="#ffb900" stroke-width="4"/>
<circle cx="1135.5" cy="1633.3" r="7.8" fill="none" stroke="#ffb900" stroke-width="4"/>
<circle cx="1156.0" cy="1633.3" r="7.8" fill="none" stroke="#ffb900" stroke-width="4"/>
<circle cx="1164.3" cy="1633.3" r="7.8" fill="none" stroke="#ffb900" stroke-width="4"/>
<circle cx="1184.8" cy="1633.3" r="7.8" fill="none" stroke="#ffb900" stroke-width="4"/>
<circle cx="1193.0" cy="1633.3" r="7.8" fill="none" stroke="#ffb900" stroke-width="4"/>
<circle cx="1202.3" cy="1633.3" r="7.8" fill="none" stroke="#ffb900" stroke-width="4"/>
<circle cx="1210.5" cy="1633.3" r="7.8" fill="none" stroke="#ffb900" stroke-width="4"/>
<circle cx="1218.7" cy="1633.3" r="7.8" fill="none" stroke="#ffb900" stroke-width="4"/>
<circle cx="1227.0" cy="1633.3" r="7.8" fill="none" stroke="#ffb900" stroke-width="4"/>
<circle cx="1235.0" cy="1633.3" r="7.8" fill="none" stroke="#ffb900" stroke-width="4"/>
<circle cx="1243.4" cy="1633.3" r="7.8" fill="none" stroke="#ffb900" stroke-width="4"/>
<circle cx="1251.6" cy="1633.3" r="7.8" fill="none" stroke="#ffb900" stroke-width="4"/>
<circle cx="1260.9" cy="1633.3" r="7.8" fill="none" stroke="#ffb900" stroke-width="4"/>
<circle cx="1269.0" cy="1633.3" r="7.8" fill="none" stroke="#ffb900" stroke-width="4"/>
<circle cx="1297.8" cy="1633.3" r="7.8" fill="none" stroke="#ffb900" stroke-width="4"/>
<circle cx="1306.0" cy="1633.3" r="7.8" fill="none" stroke="#ffb900" stroke-width="4"/>
<circle cx="1313.2" cy="1633.3" r="7.8" fill="none" stroke="#ffb900" stroke-width="4"/>
<circle cx="1343.0" cy="1633.3" r="7.8" fill="none" stroke="#ffb900" stroke-width="4"/>
<circle cx="1351.2" cy="1633.3" r="7.8" fill="none" stroke="#ffb900" stroke-width="4"/>
<circle cx="1376.9" cy="1633.3" r="7.8" fill="none" stroke="#ffb900" stroke-width="4"/>
<circle cx="1382.0" cy="1834.2" r="7.8" fill="none" stroke="#ffb900" stroke-width="4"/>
<circle cx="1391.3" cy="1834.2" r="7.8" fill="none" stroke="#ffb900" stroke-width="4"/>
<circle cx="1468.4" cy="1834.4" r="7.8" fill="none" stroke="#ffb900" stroke-width="4"/>
<circle cx="1476.6" cy="1834.4" r="7.8" fill="none" stroke="#ffb900" stroke-width="4"/>
<circle cx="1551.6" cy="1834.6" r="7.8" fill="none" stroke="#ffb900" stroke-width="4"/>
<circle cx="1560.9" cy="1834.6" r="7.8" fill="none" stroke="#ffb900" stroke-width="4"/>
<circle cx="1570.1" cy="1834.6" r="7.8" fill="none" stroke="#ffb900" stroke-width="4"/>
<polyline points="657.0,1820.3 754.3,1820.3 797.8,1820.3 894.4,1820.3 937.7,1820.3 986.0,1820.3 1007.9,1820.3 1056.4,1820.3 1078.0,1754.0 1098.6,1754.0 1106.8,1754.0 1127.3,1754.0 1135.5,1754.0 1156.0,1754.0 1164.3,1754.0 1184.8,1754.0 1193.0,1754.0 1202.3,1754.0 1210.5,1754.0 1218.7,1754.0 1227.0,1754.0 1235.0,1754.0 1243.4,1754.0 1251.6,1754.0 1260.9,1754.0 1269.0,1754.0 1297.8,1754.0 1306.0,1754.0 1313.2,1754.0 1343.0,1754.0 1351.2,1754.0 1376.9,1754.0 1382.0,1820.5 1391.3,1820.5 1468.4,1820.5 1476.6,1820.5 1551.6,1820.5 1560.9,1820.5 1570.1,1820.5 1710.0,1819.3" fill="none" stroke="#385723" stroke-width="3.8" stroke-opacity="0.25" stroke-linejoin="round" stroke-dasharray="12.5 8.5"/>
<polyline points="657.0,1820.3 754.3,1820.3 797.8,1820.3 894.4,1820.3 937.7,1820.3 986.0,1820.3 1007.9,1820.3 1056.4,1820.3 1078.0,1754.0 1098.6,1754.0 1106.8,1754.0 1127.3,1754.0 1135.5,1754.0 1156.0,1754.0 1164.3,1754.0 1184.8,1754.0 1193.0,1754.0 1202.3,1754.0 1210.5,1754.0 1218.7,1754.0 1227.0,1754.0 1235.0,1754.0 1243.4,1754.0 1251.6,1754.0 1260.9,1754.0 1269.0,1754.0 1297.8,1754.0 1306.0,1754.0 1313.2,1754.0 1343.0,1754.0 1351.2,1754.0 1376.9,1754.0 1382.0,1820.5 1391.3,1820.5 1468.4,1820.5 1476.6,1820.5 1551.6,1820.5 1560.9,1820.5 1570.1,1820.5 1710.0,1819.3" fill="none" stroke="#385723" stroke-width="2.8" stroke-linejoin="round" stroke-dasharray="12.5 8.5"/>
<path d="M649.0 1812.3L665.0 1828.3M649.0 1828.3L665.0 1812.3" fill="none" stroke="#385723" stroke-width="3.8"/>
<path d="M746.3 1812.3L762.3 1828.3M746.3 1828.3L762.3 1812.3" fill="none" stroke="#385723" stroke-width="3.8"/>
<path d="M789.8 1812.3L805.8 1828.3M789.8 1828.3L805.8 1812.3" fill="none" stroke="#385723" stroke-width="3.8"/>
<path d="M886.4 1812.3L902.4 1828.3M886.4 1828.3L902.4 1812.3" fill="none" stroke="#385723" stroke-width="3.8"/>
<path d="M929.7 1812.3L945.7 1828.3M929.7 1828.3L945.7 1812.3" fill="none" stroke="#385723" stroke-width="3.8"/>
<path d="M978.0 1812.3L994.0 1828.3M978.0 1828.3L994.0 1812.3" fill="none" stroke="#385723" stroke-width="3.8"/>
<path d="M999.9 1812.3L1015.9 1828.3M999.9 1828.3L1015.9 1812.3" fill="none" stroke="#385723" stroke-width="3.8"/>
<path d="M1048.4 1812.3L1064.4 1828.3M1048.4 1828.3L1064.4 1812.3" fill="none" stroke="#385723" stroke-width="3.8"/>
<path d="M1070.0 1746.0L1086.0 1762.0M1070.0 1762.0L1086.0 1746.0" fill="none" stroke="#385723" stroke-width="3.8"/>
<path d="M1090.6 1746.0L1106.6 1762.0M1090.6 1762.0L1106.6 1746.0" fill="none" stroke="#385723" stroke-width="3.8"/>
<path d="M1098.8 1746.0L1114.8 1762.0M1098.8 1762.0L1114.8 1746.0" fill="none" stroke="#385723" stroke-width="3.8"/>
<path d="M1119.3 1746.0L1135.3 1762.0M1119.3 1762.0L1135.3 1746.0" fill="none" stroke="#385723" stroke-width="3.8"/>
<path d="M1127.5 1746.0L1143.5 1762.0M1127.5 1762.0L1143.5 1746.0" fill="none" stroke="#385723" stroke-width="3.8"/>
<path d="M1148.0 1746.0L1164.0 1762.0M1148.0 1762.0L1164.0 1746.0" fill="none" stroke="#385723" stroke-width="3.8"/>
<path d="M1156.3 1746.0L1172.3 1762.0M1156.3 1762.0L1172.3 1746.0" fill="none" stroke="#385723" stroke-width="3.8"/>
<path d="M1176.8 1746.0L1192.8 1762.0M1176.8 1762.0L1192.8 1746.0" fill="none" stroke="#385723" stroke-width="3.8"/>
<path d="M1185.0 1746.0L1201.0 1762.0M1185.0 1762.0L1201.0 1746.0" fill="none" stroke="#385723" stroke-width="3.8"/>
<path d="M1194.3 1746.0L1210.3 1762.0M1194.3 1762.0L1210.3 1746.0" fill="none" stroke="#385723" stroke-width="3.8"/>
<path d="M1202.5 1746.0L1218.5 1762.0M1202.5 1762.0L1218.5 1746.0" fill="none" stroke="#385723" stroke-width="3.8"/>
<path d="M1210.7 1746.0L1226.7 1762.0M1210.7 1762.0L1226.7 1746.0" fill="none" stroke="#385723" stroke-width="3.8"/>
<path d="M1219.0 1746.0L1235.0 1762.0M1219.0 1762.0L1235.0 1746.0" fill="none" stroke="#385723" stroke-width="3.8"/>
<path d="M1227.0 1746.0L1243.0 1762.0M1227.0 1762.0L1243.0 1746.0" fill="none" stroke="#385723" stroke-width="3.8"/>
<path d="M1235.4 1746.0L1251.4 1762.0M1235.4 1762.0L1251.4 1746.0" fill="none" stroke="#385723" stroke-width="3.8"/>
<path d="M1243.6 1746.0L1259.6 1762.0M1243.6 1762.0L1259.6 1746.0" fill="none" stroke="#385723" stroke-width="3.8"/>
<path d="M1252.9 1746.0L1268.9 1762.0M1252.9 1762.0L1268.9 1746.0" fill="none" stroke="#385723" stroke-width="3.8"/>
<path d="M1261.0 1746.0L1277.0 1762.0M1261.0 1762.0L1277.0 1746.0" fill="none" stroke="#385723" stroke-width="3.8"/>
<path d="M1289.8 1746.0L1305.8 1762.0M1289.8 1762.0L1305.8 1746.0" fill="none" stroke="#385723" stroke-width="3.8"/>
<path d="M1298.0 1746.0L1314.0 1762.0M1298.0 1762.0L1314.0 1746.0" fill="none" stroke="#385723" stroke-width="3.8"/>
<path d="M1305.2 1746.0L1321.2 1762.0M1305.2 1762.0L1321.2 1746.0" fill="none" stroke="#385723" stroke-width="3.8"/>
<path d="M1335.0 1746.0L1351.0 1762.0M1335.0 1762.0L1351.0 1746.0" fill="none" stroke="#385723" stroke-width="3.8"/>
<path d="M1343.2 1746.0L1359.2 1762.0M1343.2 1762.0L1359.2 1746.0" fill="none" stroke="#385723" stroke-width="3.8"/>
<path d="M1368.9 1746.0L1384.9 1762.0M1368.9 1762.0L1384.9 1746.0" fill="none" stroke="#385723" stroke-width="3.8"/>
<path d="M1374.0 1812.5L1390.0 1828.5M1374.0 1828.5L1390.0 1812.5" fill="none" stroke="#385723" stroke-width="3.8"/>
<path d="M1383.3 1812.5L1399.3 1828.5M1383.3 1828.5L1399.3 1812.5" fill="none" stroke="#385723" stroke-width="3.8"/>
<path d="M1460.4 1812.5L1476.4 1828.5M1460.4 1828.5L1476.4 1812.5" fill="none" stroke="#385723" stroke-width="3.8"/>
<path d="M1468.6 1812.5L1484.6 1828.5M1468.6 1828.5L1484.6 1812.5" fill="none" stroke="#385723" stroke-width="3.8"/>
<path d="M1543.6 1812.5L1559.6 1828.5M1543.6 1828.5L1559.6 1812.5" fill="none" stroke="#385723" stroke-width="3.8"/>
<path d="M1552.9 1812.5L1568.9 1828.5M1552.9 1828.5L1568.9 1812.5" fill="none" stroke="#385723" stroke-width="3.8"/>
<path d="M1562.1 1812.5L1578.1 1828.5M1562.1 1828.5L1578.1 1812.5" fill="none" stroke="#385723" stroke-width="3.8"/>
<line x1="657.0" y1="1145.2" x2="657.0" y2="1940.3" stroke="#4d4d4d" stroke-width="3.8" stroke-opacity="0.28" stroke-linecap="square"/>
<line x1="657.0" y1="1145.2" x2="1710.0" y2="1145.2" stroke="#4d4d4d" stroke-width="3.8" stroke-opacity="0.28" stroke-linecap="square"/>
<line x1="1710.0" y1="1145.2" x2="1710.0" y2="1940.3" stroke="#4d4d4d" stroke-width="3.8" stroke-opacity="0.28" stroke-linecap="square"/>
<line x1="657.0" y1="1940.3" x2="1710.0" y2="1940.3" stroke="#4d4d4d" stroke-width="3.8" stroke-opacity="0.28" stroke-linecap="square"/>
<line x1="657.0" y1="1145.2" x2="657.0" y2="1940.3" stroke="#4d4d4d" stroke-width="2.2" stroke-opacity="1" stroke-linecap="square"/>
<line x1="657.0" y1="1145.2" x2="1710.0" y2="1145.2" stroke="#4d4d4d" stroke-width="2.2" stroke-opacity="1" stroke-linecap="square"/>
<line x1="1710.0" y1="1145.2" x2="1710.0" y2="1940.3" stroke="#4d4d4d" stroke-width="2.2" stroke-opacity="1" stroke-linecap="square"/>
<line x1="657.0" y1="1940.3" x2="1710.0" y2="1940.3" stroke="#4d4d4d" stroke-width="2.2" stroke-opacity="1" stroke-linecap="square"/>
<line x1="657.0" y1="1258.8" x2="668.0" y2="1258.8" stroke="#4d4d4d" stroke-width="3.6" stroke-opacity="0.3"/>
<line x1="657.0" y1="1258.8" x2="668.0" y2="1258.8" stroke="#4d4d4d" stroke-width="1.8"/>
<line x1="1710.0" y1="1258.8" x2="1699.0" y2="1258.8" stroke="#4d4d4d" stroke-width="3.6" stroke-opacity="0.3"/>
<line x1="1710.0" y1="1258.8" x2="1699.0" y2="1258.8" stroke="#4d4d4d" stroke-width="1.8"/>
<line x1="657.0" y1="1372.4" x2="668.0" y2="1372.4" stroke="#4d4d4d" stroke-width="3.6" stroke-opacity="0.3"/>
<line x1="657.0" y1="1372.4" x2="668.0" y2="1372.4" stroke="#4d4d4d" stroke-width="1.8"/>
<line x1="1710.0" y1="1372.4" x2="1699.0" y2="1372.4" stroke="#4d4d4d" stroke-width="3.6" stroke-opacity="0.3"/>
<line x1="1710.0" y1="1372.4" x2="1699.0" y2="1372.4" stroke="#4d4d4d" stroke-width="1.8"/>
<line x1="657.0" y1="1485.9" x2="668.0" y2="1485.9" stroke="#4d4d4d" stroke-width="3.6" stroke-opacity="0.3"/>
<line x1="657.0" y1="1485.9" x2="668.0" y2="1485.9" stroke="#4d4d4d" stroke-width="1.8"/>
<line x1="1710.0" y1="1485.9" x2="1699.0" y2="1485.9" stroke="#4d4d4d" stroke-width="3.6" stroke-opacity="0.3"/>
<line x1="1710.0" y1="1485.9" x2="1699.0" y2="1485.9" stroke="#4d4d4d" stroke-width="1.8"/>
<line x1="657.0" y1="1599.5" x2="668.0" y2="1599.5" stroke="#4d4d4d" stroke-width="3.6" stroke-opacity="0.3"/>
<line x1="657.0" y1="1599.5" x2="668.0" y2="1599.5" stroke="#4d4d4d" stroke-width="1.8"/>
<line x1="1710.0" y1="1599.5" x2="1699.0" y2="1599.5" stroke="#4d4d4d" stroke-width="3.6" stroke-opacity="0.3"/>
<line x1="1710.0" y1="1599.5" x2="1699.0" y2="1599.5" stroke="#4d4d4d" stroke-width="1.8"/>
<line x1="657.0" y1="1713.1" x2="668.0" y2="1713.1" stroke="#4d4d4d" stroke-width="3.6" stroke-opacity="0.3"/>
<line x1="657.0" y1="1713.1" x2="668.0" y2="1713.1" stroke="#4d4d4d" stroke-width="1.8"/>
<line x1="1710.0" y1="1713.1" x2="1699.0" y2="1713.1" stroke="#4d4d4d" stroke-width="3.6" stroke-opacity="0.3"/>
<line x1="1710.0" y1="1713.1" x2="1699.0" y2="1713.1" stroke="#4d4d4d" stroke-width="1.8"/>
<line x1="657.0" y1="1826.7" x2="668.0" y2="1826.7" stroke="#4d4d4d" stroke-width="3.6" stroke-opacity="0.3"/>
<line x1="657.0" y1="1826.7" x2="668.0" y2="1826.7" stroke="#4d4d4d" stroke-width="1.8"/>
<line x1="1710.0" y1="1826.7" x2="1699.0" y2="1826.7" stroke="#4d4d4d" stroke-width="3.6" stroke-opacity="0.3"/>
<line x1="1710.0" y1="1826.7" x2="1699.0" y2="1826.7" stroke="#4d4d4d" stroke-width="1.8"/>
<line x1="797.4" y1="1940.3" x2="797.4" y2="1928.3" stroke="#4d4d4d" stroke-width="3.6" stroke-opacity="0.3"/>
<line x1="797.4" y1="1940.3" x2="797.4" y2="1928.3" stroke="#4d4d4d" stroke-width="1.8"/>
<line x1="937.8" y1="1940.3" x2="937.8" y2="1928.3" stroke="#4d4d4d" stroke-width="3.6" stroke-opacity="0.3"/>
<line x1="937.8" y1="1940.3" x2="937.8" y2="1928.3" stroke="#4d4d4d" stroke-width="1.8"/>
<line x1="1078.2" y1="1940.3" x2="1078.2" y2="1928.3" stroke="#4d4d4d" stroke-width="3.6" stroke-opacity="0.3"/>
<line x1="1078.2" y1="1940.3" x2="1078.2" y2="1928.3" stroke="#4d4d4d" stroke-width="1.8"/>
<line x1="1218.6" y1="1940.3" x2="1218.6" y2="1928.3" stroke="#4d4d4d" stroke-width="3.6" stroke-opacity="0.3"/>
<line x1="1218.6" y1="1940.3" x2="1218.6" y2="1928.3" stroke="#4d4d4d" stroke-width="1.8"/>
<line x1="1359.0" y1="1940.3" x2="1359.0" y2="1928.3" stroke="#4d4d4d" stroke-width="3.6" stroke-opacity="0.3"/>
<line x1="1359.0" y1="1940.3" x2="1359.0" y2="1928.3" stroke="#4d4d4d" stroke-width="1.8"/>
<line x1="1499.4" y1="1940.3" x2="1499.4" y2="1928.3" stroke="#4d4d4d" stroke-width="3.6" stroke-opacity="0.3"/>
<line x1="1499.4" y1="1940.3" x2="1499.4" y2="1928.3" stroke="#4d4d4d" stroke-width="1.8"/>
<line x1="1639.8" y1="1940.3" x2="1639.8" y2="1928.3" stroke="#4d4d4d" stroke-width="3.6" stroke-opacity="0.3"/>
<line x1="1639.8" y1="1940.3" x2="1639.8" y2="1928.3" stroke="#4d4d4d" stroke-width="1.8"/>
<text transform="translate(622.0,1157.8) scale(1,1.04)" font-size="38.3" fill="#000" stroke="#000" stroke-width="0.42" text-anchor="end" font-family="Liberation Sans, Arial, Helvetica, sans-serif">1.2</text>
<text transform="translate(622.0,1271.4) scale(1,1.04)" font-size="38.3" fill="#000" stroke="#000" stroke-width="0.42" text-anchor="end" font-family="Liberation Sans, Arial, Helvetica, sans-serif">1</text>
<text transform="translate(622.0,1385.0) scale(1,1.04)" font-size="38.3" fill="#000" stroke="#000" stroke-width="0.42" text-anchor="end" font-family="Liberation Sans, Arial, Helvetica, sans-serif">0.8</text>
<text transform="translate(622.0,1498.5) scale(1,1.04)" font-size="38.3" fill="#000" stroke="#000" stroke-width="0.42" text-anchor="end" font-family="Liberation Sans, Arial, Helvetica, sans-serif">0.6</text>
<text transform="translate(622.0,1612.1) scale(1,1.04)" font-size="38.3" fill="#000" stroke="#000" stroke-width="0.42" text-anchor="end" font-family="Liberation Sans, Arial, Helvetica, sans-serif">0.4</text>
<text transform="translate(622.0,1725.7) scale(1,1.04)" font-size="38.3" fill="#000" stroke="#000" stroke-width="0.42" text-anchor="end" font-family="Liberation Sans, Arial, Helvetica, sans-serif">0.2</text>
<text transform="translate(622.0,1839.3) scale(1,1.04)" font-size="38.3" fill="#000" stroke="#000" stroke-width="0.42" text-anchor="end" font-family="Liberation Sans, Arial, Helvetica, sans-serif">0</text>
<text transform="translate(622.0,1952.9) scale(1,1.04)" font-size="38.3" fill="#000" stroke="#000" stroke-width="0.42" text-anchor="end" font-family="Liberation Sans, Arial, Helvetica, sans-serif">-0.2</text>
<text transform="translate(656.7,2001.3) scale(1,1.04)" font-size="38.3" fill="#000" stroke="#000" stroke-width="0.42" text-anchor="middle" font-family="Liberation Sans, Arial, Helvetica, sans-serif">-6</text>
<text transform="translate(797.1,2001.3) scale(1,1.04)" font-size="38.3" fill="#000" stroke="#000" stroke-width="0.42" text-anchor="middle" font-family="Liberation Sans, Arial, Helvetica, sans-serif">-4</text>
<text transform="translate(937.5,2001.3) scale(1,1.04)" font-size="38.3" fill="#000" stroke="#000" stroke-width="0.42" text-anchor="middle" font-family="Liberation Sans, Arial, Helvetica, sans-serif">-2</text>
<text transform="translate(1077.9,2001.3) scale(1,1.04)" font-size="38.3" fill="#000" stroke="#000" stroke-width="0.42" text-anchor="middle" font-family="Liberation Sans, Arial, Helvetica, sans-serif">0</text>
<text transform="translate(1218.3,2001.3) scale(1,1.04)" font-size="38.3" fill="#000" stroke="#000" stroke-width="0.42" text-anchor="middle" font-family="Liberation Sans, Arial, Helvetica, sans-serif">2</text>
<text transform="translate(1358.7,2001.3) scale(1,1.04)" font-size="38.3" fill="#000" stroke="#000" stroke-width="0.42" text-anchor="middle" font-family="Liberation Sans, Arial, Helvetica, sans-serif">4</text>
<text transform="translate(1499.1,2001.3) scale(1,1.04)" font-size="38.3" fill="#000" stroke="#000" stroke-width="0.42" text-anchor="middle" font-family="Liberation Sans, Arial, Helvetica, sans-serif">6</text>
<text transform="translate(1639.5,2001.3) scale(1,1.04)" font-size="38.3" fill="#000" stroke="#000" stroke-width="0.42" text-anchor="middle" font-family="Liberation Sans, Arial, Helvetica, sans-serif">8</text>
<text transform="translate(1233.0,2063.8) scale(1,1.04)" font-size="54.3" fill="#000" stroke="#000" stroke-width="0.60" text-anchor="middle" font-family="Liberation Sans, Arial, Helvetica, sans-serif">Position along z-axis (nm)</text>
<text transform="translate(548.2,1572.4) rotate(-90) scale(1,1.04)" font-size="54.5" fill="#000" stroke="#000" stroke-width="0.60" text-anchor="middle" font-family="Liberation Sans, Arial, Helvetica, sans-serif">Energy (eV)</text>
<line x1="665.2" y1="1365.3" x2="715.7" y2="1365.3" stroke="#ff0000" stroke-width="3.7" stroke-opacity="0.25" />
<line x1="665.2" y1="1365.3" x2="715.7" y2="1365.3" stroke="#ff0000" stroke-width="2.7" />
<rect x="682.4" y="1357.3" width="16" height="16" fill="#ff0000" stroke="#ff0000" stroke-width="1.0" stroke-opacity="0.25" paint-order="stroke"/>
<text transform="translate(720.5,1377.6) scale(1,1.04)" font-size="38.5" fill="#ff0000" stroke="#ff0000" stroke-width="0.42" text-anchor="start" font-family="Liberation Sans, Arial, Helvetica, sans-serif">CB edge two-step</text>
<line x1="665.2" y1="1424.0" x2="715.7" y2="1424.0" stroke="#000000" stroke-width="3.7" stroke-opacity="0.25" />
<line x1="665.2" y1="1424.0" x2="715.7" y2="1424.0" stroke="#000000" stroke-width="2.7" />
<circle cx="690.4" cy="1424.0" r="8.1" fill="#000000" stroke="#000000" stroke-width="1.0" stroke-opacity="0.25" paint-order="stroke"/>
<text transform="translate(720.5,1436.2) scale(1,1.04)" font-size="38.5" fill="#000000" stroke="#000000" stroke-width="0.42" text-anchor="start" font-family="Liberation Sans, Arial, Helvetica, sans-serif">CB edge one-step</text>
<line x1="665.2" y1="1482.6" x2="715.7" y2="1482.6" stroke="#0000ff" stroke-width="3.7" stroke-opacity="0.25" />
<line x1="665.2" y1="1482.6" x2="715.7" y2="1482.6" stroke="#0000ff" stroke-width="2.7" />
<rect x="682.4" y="1475.1" width="16" height="16" fill="none" stroke="#0000ff" stroke-width="3.8"/>
<text transform="translate(720.5,1494.9) scale(1,1.04)" font-size="38.5" fill="#0000ff" stroke="#0000ff" stroke-width="0.42" text-anchor="start" font-family="Liberation Sans, Arial, Helvetica, sans-serif">HH edge two-step</text>
<line x1="665.2" y1="1541.2" x2="715.7" y2="1541.2" stroke="#00ff00" stroke-width="3.7" stroke-opacity="0.25" stroke-dasharray="10 30.5 10"/>
<line x1="665.2" y1="1541.2" x2="715.7" y2="1541.2" stroke="#00ff00" stroke-width="2.7" stroke-dasharray="10 30.5 10"/>
<path d="M682.9 1549.8L697.9 1549.8L690.4 1534.8Z" fill="none" stroke="#00ff00" stroke-width="3.6"/>
<text transform="translate(720.5,1553.5) scale(1,1.04)" font-size="38.5" fill="#00ff00" stroke="#00ff00" stroke-width="0.42" text-anchor="start" font-family="Liberation Sans, Arial, Helvetica, sans-serif">LH edge two-step</text>
<line x1="665.2" y1="1599.9" x2="715.7" y2="1599.9" stroke="#ffb900" stroke-width="3.7" stroke-opacity="0.25" />
<line x1="665.2" y1="1599.9" x2="715.7" y2="1599.9" stroke="#ffb900" stroke-width="2.7" />
<circle cx="690.4" cy="1599.9" r="7.3" fill="none" stroke="#ffb900" stroke-width="3.6"/>
<text transform="translate(720.5,1612.2) scale(1,1.04)" font-size="38.5" fill="#ffb900" stroke="#ffb900" stroke-width="0.42" text-anchor="start" font-family="Liberation Sans, Arial, Helvetica, sans-serif">HH edge one-step</text>
<line x1="665.2" y1="1658.5" x2="715.7" y2="1658.5" stroke="#385723" stroke-width="3.7" stroke-opacity="0.25" stroke-dasharray="10 30.5 10"/>
<line x1="665.2" y1="1658.5" x2="715.7" y2="1658.5" stroke="#385723" stroke-width="2.7" stroke-dasharray="10 30.5 10"/>
<path d="M682.9 1651.0L697.9 1666.0M682.9 1666.0L697.9 1651.0" fill="none" stroke="#385723" stroke-width="3.6"/>
<text transform="translate(720.5,1670.8) scale(1,1.04)" font-size="38.5" fill="#385723" stroke="#385723" stroke-width="0.42" text-anchor="start" font-family="Liberation Sans, Arial, Helvetica, sans-serif">LH edge one-step</text>
<text transform="translate(1145.0,2148.5)" font-size="78" fill="#000" text-anchor="middle" font-family="Liberation Serif, DejaVu Serif, serif">(c)</text>
</g>
</svg>
</body></html>
